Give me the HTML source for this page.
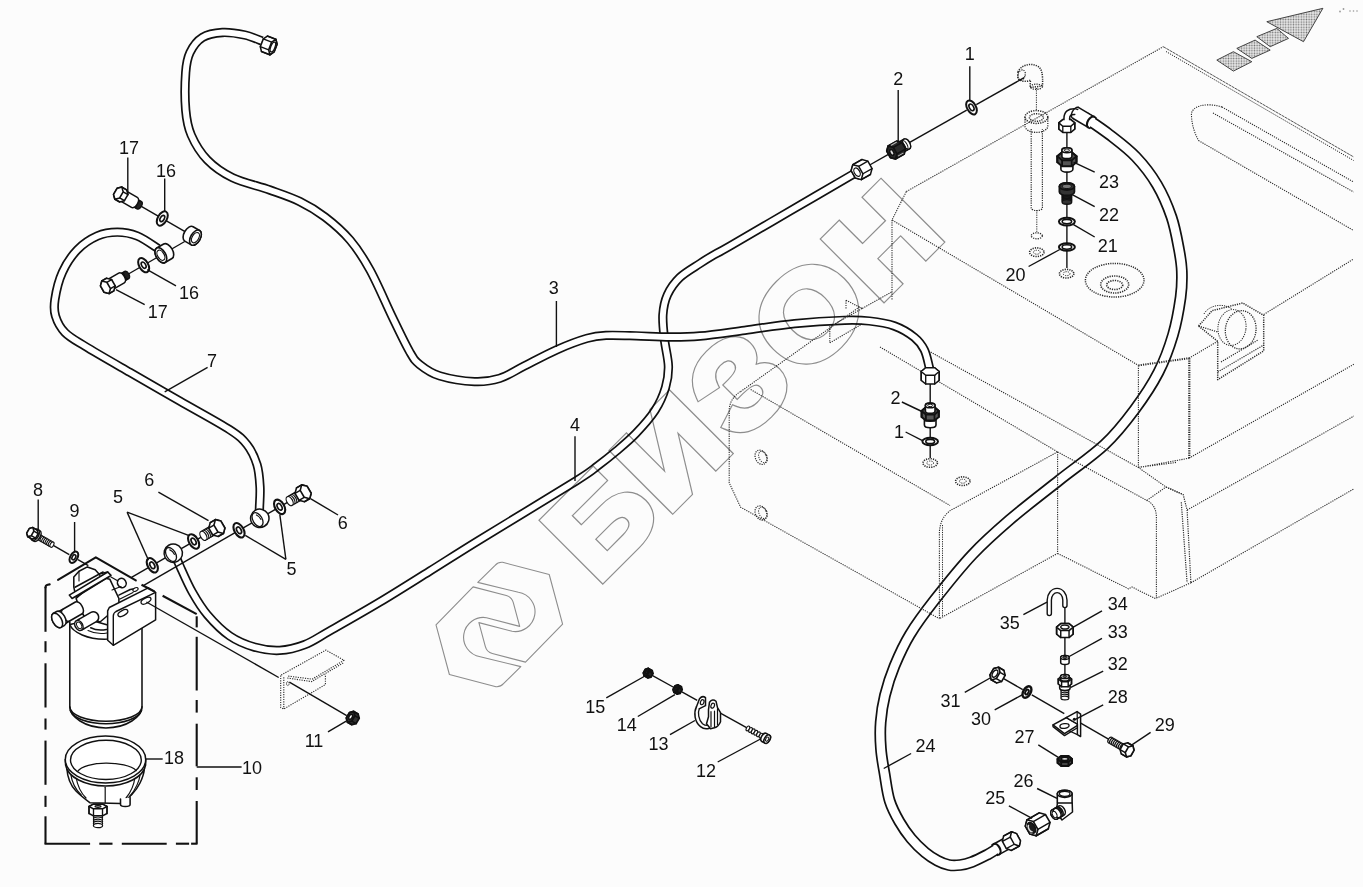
<!DOCTYPE html>
<html lang="ru"><head><meta charset="utf-8"><title>Схема</title>
<style>
html,body{margin:0;padding:0;background:#fcfcfc;}
body{width:1363px;height:887px;overflow:hidden;font-family:"Liberation Sans",sans-serif;}
svg{display:block;font-family:"Liberation Sans",sans-serif;}
</style></head><body>
<svg width="1363" height="887" viewBox="0 0 1363 887">
<defs>
<pattern id="ht" width="2.6" height="2.6" patternUnits="userSpaceOnUse"><rect width="2.6" height="2.6" fill="#e9e9e9"/><circle cx="1.3" cy="1.3" r="0.8" fill="#777"/></pattern>
</defs>
<path d="M854.5,173.4 C843.8,179.7 810.8,198.9 790.0,211.0 C769.2,223.1 743.0,238.5 730.0,246.0 C717.0,253.5 717.0,253.1 712.0,256.0 C707.0,258.9 705.4,259.9 700.0,263.5 C694.6,267.1 685.3,272.2 679.9,277.4 C674.5,282.6 670.2,288.7 667.4,294.9 C664.6,301.1 663.4,307.3 662.9,314.8 C662.4,322.3 663.6,331.3 664.5,339.8 C665.4,348.3 668.2,358.1 668.4,366.0 C668.6,373.9 667.7,380.1 665.5,387.5 C663.3,394.9 660.0,402.8 655.0,410.5 C650.0,418.2 642.2,426.8 635.8,433.5 C629.4,440.2 623.1,445.3 616.7,450.7 C610.3,456.1 604.3,460.9 597.5,466.0 C590.7,471.1 595.6,468.7 576.0,481.0 C556.4,493.3 504.2,524.7 479.8,539.7 C455.4,554.7 446.6,560.6 429.9,571.0 C413.2,581.4 396.1,592.3 379.4,602.3 C362.7,612.3 342.1,623.9 329.6,631.0 C317.1,638.1 312.9,641.5 304.6,644.7 C296.3,647.9 288.0,650.0 279.7,650.4 C271.4,650.8 263.0,649.6 254.7,647.2 C246.4,644.8 237.7,641.4 229.8,636.0 C221.9,630.6 213.5,622.0 207.3,614.7 C201.1,607.4 197.0,600.4 192.4,592.3 C187.8,584.2 182.6,572.0 179.9,566.1 C177.2,560.2 176.7,558.5 176.0,557.0" fill="none" stroke="#111" stroke-width="9.3" stroke-linecap="butt" stroke-linejoin="round"/>
<path d="M854.5,173.4 C843.8,179.7 810.8,198.9 790.0,211.0 C769.2,223.1 743.0,238.5 730.0,246.0 C717.0,253.5 717.0,253.1 712.0,256.0 C707.0,258.9 705.4,259.9 700.0,263.5 C694.6,267.1 685.3,272.2 679.9,277.4 C674.5,282.6 670.2,288.7 667.4,294.9 C664.6,301.1 663.4,307.3 662.9,314.8 C662.4,322.3 663.6,331.3 664.5,339.8 C665.4,348.3 668.2,358.1 668.4,366.0 C668.6,373.9 667.7,380.1 665.5,387.5 C663.3,394.9 660.0,402.8 655.0,410.5 C650.0,418.2 642.2,426.8 635.8,433.5 C629.4,440.2 623.1,445.3 616.7,450.7 C610.3,456.1 604.3,460.9 597.5,466.0 C590.7,471.1 595.6,468.7 576.0,481.0 C556.4,493.3 504.2,524.7 479.8,539.7 C455.4,554.7 446.6,560.6 429.9,571.0 C413.2,581.4 396.1,592.3 379.4,602.3 C362.7,612.3 342.1,623.9 329.6,631.0 C317.1,638.1 312.9,641.5 304.6,644.7 C296.3,647.9 288.0,650.0 279.7,650.4 C271.4,650.8 263.0,649.6 254.7,647.2 C246.4,644.8 237.7,641.4 229.8,636.0 C221.9,630.6 213.5,622.0 207.3,614.7 C201.1,607.4 197.0,600.4 192.4,592.3 C187.8,584.2 182.6,572.0 179.9,566.1 C177.2,560.2 176.7,558.5 176.0,557.0" fill="none" stroke="#fff" stroke-width="5.9" stroke-linecap="butt" stroke-linejoin="round"/>
<path d="M262.0,41.0 C259.1,40.0 251.4,36.4 244.8,35.0 C238.2,33.6 229.5,32.1 222.4,32.5 C215.3,32.9 207.8,34.2 202.4,37.5 C197.0,40.8 192.8,46.7 190.0,52.5 C187.2,58.3 186.4,62.9 185.7,72.5 C185.0,82.1 184.8,99.6 185.7,110.0 C186.6,120.4 187.6,126.7 191.2,135.0 C194.8,143.3 200.5,152.9 207.4,160.0 C214.3,167.1 222.0,172.6 232.4,177.6 C242.8,182.6 258.6,186.0 269.8,190.0 C281.0,194.0 290.5,197.0 299.7,201.5 C308.9,206.0 316.6,210.6 325.0,217.0 C333.4,223.4 342.5,231.2 350.0,240.0 C357.5,248.8 362.9,257.2 370.0,270.0 C377.1,282.8 385.7,303.3 392.3,317.0 C398.9,330.7 405.2,344.1 409.8,352.0 C414.4,359.9 414.7,360.6 419.7,364.6 C424.7,368.6 430.5,373.1 439.7,375.9 C448.9,378.7 464.6,381.2 474.6,381.6 C484.6,382.0 491.3,381.0 499.6,378.4 C507.9,375.8 515.0,370.7 524.5,365.9 C534.0,361.1 546.5,354.3 556.9,349.7 C567.3,345.1 578.7,340.8 586.9,338.4 C595.1,336.0 597.8,335.8 606.0,335.4 C614.2,335.0 625.3,335.5 636.0,335.8 C646.7,336.1 659.3,337.0 670.0,337.0 C680.7,337.0 687.5,337.1 700.0,336.0 C712.5,334.9 728.9,332.4 744.7,330.3 C760.5,328.2 778.0,325.3 794.6,323.6 C811.2,321.9 832.0,320.7 844.5,320.3 C857.0,319.9 861.1,320.1 869.4,321.0 C877.7,321.9 886.9,323.3 894.4,326.0 C901.9,328.7 909.3,333.3 914.3,337.3 C919.3,341.3 921.8,344.8 924.3,349.8 C926.8,354.8 928.3,363.5 929.3,367.2 C930.2,370.9 929.9,371.2 930.0,372.0" fill="none" stroke="#111" stroke-width="9.3" stroke-linecap="butt" stroke-linejoin="round"/>
<path d="M262.0,41.0 C259.1,40.0 251.4,36.4 244.8,35.0 C238.2,33.6 229.5,32.1 222.4,32.5 C215.3,32.9 207.8,34.2 202.4,37.5 C197.0,40.8 192.8,46.7 190.0,52.5 C187.2,58.3 186.4,62.9 185.7,72.5 C185.0,82.1 184.8,99.6 185.7,110.0 C186.6,120.4 187.6,126.7 191.2,135.0 C194.8,143.3 200.5,152.9 207.4,160.0 C214.3,167.1 222.0,172.6 232.4,177.6 C242.8,182.6 258.6,186.0 269.8,190.0 C281.0,194.0 290.5,197.0 299.7,201.5 C308.9,206.0 316.6,210.6 325.0,217.0 C333.4,223.4 342.5,231.2 350.0,240.0 C357.5,248.8 362.9,257.2 370.0,270.0 C377.1,282.8 385.7,303.3 392.3,317.0 C398.9,330.7 405.2,344.1 409.8,352.0 C414.4,359.9 414.7,360.6 419.7,364.6 C424.7,368.6 430.5,373.1 439.7,375.9 C448.9,378.7 464.6,381.2 474.6,381.6 C484.6,382.0 491.3,381.0 499.6,378.4 C507.9,375.8 515.0,370.7 524.5,365.9 C534.0,361.1 546.5,354.3 556.9,349.7 C567.3,345.1 578.7,340.8 586.9,338.4 C595.1,336.0 597.8,335.8 606.0,335.4 C614.2,335.0 625.3,335.5 636.0,335.8 C646.7,336.1 659.3,337.0 670.0,337.0 C680.7,337.0 687.5,337.1 700.0,336.0 C712.5,334.9 728.9,332.4 744.7,330.3 C760.5,328.2 778.0,325.3 794.6,323.6 C811.2,321.9 832.0,320.7 844.5,320.3 C857.0,319.9 861.1,320.1 869.4,321.0 C877.7,321.9 886.9,323.3 894.4,326.0 C901.9,328.7 909.3,333.3 914.3,337.3 C919.3,341.3 921.8,344.8 924.3,349.8 C926.8,354.8 928.3,363.5 929.3,367.2 C930.2,370.9 929.9,371.2 930.0,372.0" fill="none" stroke="#fff" stroke-width="5.9" stroke-linecap="butt" stroke-linejoin="round"/>
<path d="M158.0,248.5 C154.6,246.4 144.1,238.7 137.3,236.0 C130.5,233.3 124.0,232.2 117.3,232.2 C110.6,232.2 103.9,233.1 97.3,236.0 C90.7,238.9 83.2,243.7 77.4,249.7 C71.6,255.7 66.2,263.9 62.4,272.2 C58.6,280.5 56.0,292.3 54.9,299.6 C53.8,306.9 53.8,310.5 55.5,316.0 C57.2,321.5 60.0,327.4 64.9,332.4 C69.8,337.4 74.1,339.5 84.9,346.1 C95.7,352.8 114.0,363.2 129.8,372.3 C145.6,381.4 163.1,391.4 179.7,401.0 C196.3,410.6 218.4,422.4 229.6,429.7 C240.8,437.0 242.4,438.9 247.0,444.7 C251.6,450.5 254.8,457.6 257.0,464.6 C259.2,471.7 259.6,479.9 260.0,487.0 C260.4,494.1 259.6,502.7 259.5,507.0 C259.4,511.3 259.2,512.0 259.2,513.0" fill="none" stroke="#111" stroke-width="9.3" stroke-linecap="butt" stroke-linejoin="round"/>
<path d="M158.0,248.5 C154.6,246.4 144.1,238.7 137.3,236.0 C130.5,233.3 124.0,232.2 117.3,232.2 C110.6,232.2 103.9,233.1 97.3,236.0 C90.7,238.9 83.2,243.7 77.4,249.7 C71.6,255.7 66.2,263.9 62.4,272.2 C58.6,280.5 56.0,292.3 54.9,299.6 C53.8,306.9 53.8,310.5 55.5,316.0 C57.2,321.5 60.0,327.4 64.9,332.4 C69.8,337.4 74.1,339.5 84.9,346.1 C95.7,352.8 114.0,363.2 129.8,372.3 C145.6,381.4 163.1,391.4 179.7,401.0 C196.3,410.6 218.4,422.4 229.6,429.7 C240.8,437.0 242.4,438.9 247.0,444.7 C251.6,450.5 254.8,457.6 257.0,464.6 C259.2,471.7 259.6,479.9 260.0,487.0 C260.4,494.1 259.6,502.7 259.5,507.0 C259.4,511.3 259.2,512.0 259.2,513.0" fill="none" stroke="#fff" stroke-width="5.9" stroke-linecap="butt" stroke-linejoin="round"/>
<path d="M1084.7,117.3 C1088.9,120.2 1101.2,128.2 1109.7,134.8 C1118.2,141.4 1128.1,148.7 1136.0,157.0 C1143.9,165.3 1151.1,174.7 1157.0,184.7 C1162.9,194.7 1167.8,206.2 1171.5,217.0 C1175.2,227.8 1177.3,240.5 1179.0,249.5 C1180.7,258.5 1181.5,263.0 1181.8,271.0 C1182.1,279.0 1182.1,286.8 1180.6,297.4 C1179.1,308.0 1176.7,322.3 1173.0,334.8 C1169.3,347.3 1164.9,359.7 1158.5,372.2 C1152.1,384.7 1143.5,397.6 1134.5,409.7 C1125.5,421.8 1117.0,432.9 1104.5,444.6 C1092.0,456.3 1075.3,467.5 1059.5,480.0 C1043.7,492.5 1024.2,507.3 1009.7,519.8 C995.2,532.3 984.7,541.5 972.2,554.8 C959.7,568.1 945.2,586.4 934.8,599.7 C924.4,613.0 916.6,623.6 909.9,634.6 C903.2,645.6 898.7,655.9 894.5,666.0 C890.3,676.1 887.2,686.2 884.9,695.5 C882.6,704.8 881.4,713.2 880.7,722.0 C880.0,730.8 880.2,739.6 880.9,748.3 C881.5,757.0 883.1,765.2 884.6,774.0 C886.1,782.8 887.2,793.0 889.7,800.9 C892.2,808.8 895.7,815.2 899.3,821.5 C902.9,827.8 906.8,833.3 911.1,838.5 C915.4,843.7 920.8,848.8 925.2,852.5 C929.6,856.2 933.7,858.7 937.6,860.8 C941.5,862.9 945.1,864.3 948.9,865.0 C952.7,865.7 956.4,865.5 960.2,865.0 C964.0,864.5 967.4,863.7 971.9,862.0 C976.4,860.3 983.2,856.8 987.3,854.7 C991.4,852.6 994.2,850.5 996.5,849.2 C998.8,847.9 1000.2,847.2 1001.0,846.8" fill="none" stroke="#111" stroke-width="11.8" stroke-linecap="butt" stroke-linejoin="round"/>
<path d="M1084.7,117.3 C1088.9,120.2 1101.2,128.2 1109.7,134.8 C1118.2,141.4 1128.1,148.7 1136.0,157.0 C1143.9,165.3 1151.1,174.7 1157.0,184.7 C1162.9,194.7 1167.8,206.2 1171.5,217.0 C1175.2,227.8 1177.3,240.5 1179.0,249.5 C1180.7,258.5 1181.5,263.0 1181.8,271.0 C1182.1,279.0 1182.1,286.8 1180.6,297.4 C1179.1,308.0 1176.7,322.3 1173.0,334.8 C1169.3,347.3 1164.9,359.7 1158.5,372.2 C1152.1,384.7 1143.5,397.6 1134.5,409.7 C1125.5,421.8 1117.0,432.9 1104.5,444.6 C1092.0,456.3 1075.3,467.5 1059.5,480.0 C1043.7,492.5 1024.2,507.3 1009.7,519.8 C995.2,532.3 984.7,541.5 972.2,554.8 C959.7,568.1 945.2,586.4 934.8,599.7 C924.4,613.0 916.6,623.6 909.9,634.6 C903.2,645.6 898.7,655.9 894.5,666.0 C890.3,676.1 887.2,686.2 884.9,695.5 C882.6,704.8 881.4,713.2 880.7,722.0 C880.0,730.8 880.2,739.6 880.9,748.3 C881.5,757.0 883.1,765.2 884.6,774.0 C886.1,782.8 887.2,793.0 889.7,800.9 C892.2,808.8 895.7,815.2 899.3,821.5 C902.9,827.8 906.8,833.3 911.1,838.5 C915.4,843.7 920.8,848.8 925.2,852.5 C929.6,856.2 933.7,858.7 937.6,860.8 C941.5,862.9 945.1,864.3 948.9,865.0 C952.7,865.7 956.4,865.5 960.2,865.0 C964.0,864.5 967.4,863.7 971.9,862.0 C976.4,860.3 983.2,856.8 987.3,854.7 C991.4,852.6 994.2,850.5 996.5,849.2 C998.8,847.9 1000.2,847.2 1001.0,846.8" fill="none" stroke="#fff" stroke-width="8.4" stroke-linecap="butt" stroke-linejoin="round"/>
<path d="M906.3,191.6 L1163.3,46.7" fill="none" stroke="#2a2a2a" stroke-width="1.1" stroke-dasharray="1.2 1.1" stroke-linejoin="round"/>
<path d="M1163.3,46.7 L1353.6,156.9" fill="none" stroke="#555" stroke-width="1.0" stroke-dasharray="3 0.6" stroke-linejoin="round"/>
<path d="M1166,51.5 L1353.6,160.5" fill="none" stroke="#2a2a2a" stroke-width="1.0" stroke-dasharray="1.2 1.1" stroke-linejoin="round"/>
<path d="M906.3,191.6 L892,220 L1138.4,365.4" fill="none" stroke="#2a2a2a" stroke-width="1.1" stroke-dasharray="1.2 1.1" stroke-linejoin="round"/>
<path d="M892,220 L892,300" fill="none" stroke="#2a2a2a" stroke-width="1.1" stroke-dasharray="1.2 1.1" stroke-linejoin="round"/>
<path d="M1138.4,365.4 L1189,358.2" fill="none" stroke="#2a2a2a" stroke-width="2.0" stroke-dasharray="1.2 1.1" stroke-linejoin="round"/>
<path d="M1189,358.2 L1217.7,341.3 M1263.7,314.5 L1353.6,259" fill="none" stroke="#2a2a2a" stroke-width="1.1" stroke-dasharray="1.2 1.1" stroke-linejoin="round"/>
<path d="M1138.4,365.4 L1138.4,467.5" fill="none" stroke="#2a2a2a" stroke-width="1.1" stroke-dasharray="1.2 1.1" stroke-linejoin="round"/>
<path d="M1189.3,358.2 L1189.3,458" fill="none" stroke="#2a2a2a" stroke-width="2.2" stroke-dasharray="1.2 1.1" stroke-linejoin="round"/>
<path d="M1138.4,467.5 L1189,458.2 M1138.4,467.5 L1176,462.5" fill="none" stroke="#2a2a2a" stroke-width="1.1" stroke-dasharray="1.2 1.1" stroke-linejoin="round"/>
<path d="M930.7,352.1 L1138.4,467.5 L1166,487 L1183.2,494.6" fill="none" stroke="#2a2a2a" stroke-width="1.1" stroke-dasharray="1.2 1.1" stroke-linejoin="round"/>
<path d="M1222,107 L1353.6,182 M1198.5,140.5 L1353.6,230.5 M1222,107 C1206,102 1190,106 1191.5,116 C1192,126 1195,134 1198.5,140.5" fill="none" stroke="#2a2a2a" stroke-width="1.1" stroke-dasharray="1.2 1.1" stroke-linejoin="round"/>
<path d="M1213,113 L1353.6,192" fill="none" stroke="#2a2a2a" stroke-width="1.1" stroke-dasharray="1.2 1.1" stroke-linejoin="round"/>
<ellipse cx="1114.7" cy="280.2" rx="29.3" ry="16.8" transform="rotate(0 1114.7 280.2)" fill="none" stroke="#2a2a2a" stroke-width="1.5" stroke-dasharray="1.2 1.1"/>
<ellipse cx="1114.7" cy="284.5" rx="14" ry="8.5" transform="rotate(0 1114.7 284.5)" fill="none" stroke="#2a2a2a" stroke-width="1.6" stroke-dasharray="1.2 1.1"/>
<ellipse cx="1114.7" cy="285" rx="8" ry="4.5" transform="rotate(0 1114.7 285)" fill="none" stroke="#2a2a2a" stroke-width="1.6" stroke-dasharray="1.2 1.1"/>
<path d="M1198.6,326 L1212,310.7 L1242.7,303 L1263.7,315.3 L1263.7,350.9 L1217.7,379.7 L1217.7,341.3 Z" fill="none" stroke="#2a2a2a" stroke-width="1.5" stroke-dasharray="1.2 1.1" stroke-linejoin="round"/>
<path d="M1198.6,326 L1217.7,332 M1217.7,372 L1263.7,345 M1221,362 L1258,340" fill="none" stroke="#2a2a2a" stroke-width="1.2" stroke-dasharray="1.2 1.1" stroke-linejoin="round"/>
<ellipse cx="1240.7" cy="329.8" rx="15.3" ry="19.2" transform="rotate(8 1240.7 329.8)" fill="none" stroke="#2a2a2a" stroke-width="1.3" stroke-dasharray="1.2 1.1"/>
<ellipse cx="1232" cy="327.5" rx="14" ry="18" transform="rotate(8 1232 327.5)" fill="none" stroke="#2a2a2a" stroke-width="1.0" stroke-dasharray="1.2 1.1"/>
<path d="M1204,314 C1208,306 1222,302 1232,309" fill="none" stroke="#2a2a2a" stroke-width="1.0" stroke-dasharray="1.2 1.1" stroke-linejoin="round"/>
<path d="M1189,458.2 L1353.8,364.3" fill="none" stroke="#2a2a2a" stroke-width="1.1" stroke-dasharray="1.2 1.1" stroke-linejoin="round"/>
<path d="M1187.1,510 L1353.8,416.1" fill="none" stroke="#2a2a2a" stroke-width="1.1" stroke-dasharray="1.2 1.1" stroke-linejoin="round"/>
<path d="M1190.9,582.8 L1353.8,488.9" fill="none" stroke="#2a2a2a" stroke-width="1.1" stroke-dasharray="1.2 1.1" stroke-linejoin="round"/>
<path d="M1156.4,598.1 L1190.9,582.8" fill="none" stroke="#2a2a2a" stroke-width="1.1" stroke-dasharray="1.2 1.1" stroke-linejoin="round"/>
<path d="M1166,487 L1183.2,494.6 L1187.1,510 L1190.9,582.8 M1181.3,502.3 L1187.1,582.8" fill="none" stroke="#2a2a2a" stroke-width="1.2" stroke-dasharray="1.2 1.1" stroke-linejoin="round"/>
<path d="M1057.6,451.9 L1146.8,500.4 Q1156.4,505 1156.4,517.6 L1156.4,598.1" fill="none" stroke="#2a2a2a" stroke-width="1.1" stroke-dasharray="1.2 1.1" stroke-linejoin="round"/>
<path d="M1146.8,500.4 L1166,487" fill="none" stroke="#2a2a2a" stroke-width="1.1" stroke-dasharray="1.2 1.1" stroke-linejoin="round"/>
<path d="M1057.6,553.4 L1128.6,588.9 L1132,587 L1137,589.5 L1156.4,599.1" fill="none" stroke="#2a2a2a" stroke-width="1.1" stroke-dasharray="1.2 1.1" stroke-linejoin="round"/>
<path d="M1057.6,451.9 L1057.6,553.4" fill="none" stroke="#2a2a2a" stroke-width="1.1" stroke-dasharray="1.2 1.1" stroke-linejoin="round"/>
<path d="M880,347 L1057.6,451.9" fill="none" stroke="#2a2a2a" stroke-width="1.1" stroke-dasharray="1.2 1.1" stroke-linejoin="round"/>
<path d="M1057.6,451.9 L955,508 Q941,514 939.4,531.5 L939.4,618.7 L1057.6,553.4" fill="none" stroke="#2a2a2a" stroke-width="1.1" stroke-dasharray="1.2 1.1" stroke-linejoin="round"/>
<path d="M942.5,525 L942.5,616" fill="none" stroke="#2a2a2a" stroke-width="1.0" stroke-dasharray="1.2 1.1" stroke-linejoin="round"/>
<path d="M750.7,389.5 L950,505.5" fill="none" stroke="#2a2a2a" stroke-width="1.1" stroke-dasharray="1.2 1.1" stroke-linejoin="round"/>
<path d="M740.6,391.6 L860.2,306.4" fill="none" stroke="#2a2a2a" stroke-width="1.1" stroke-dasharray="1.2 1.1" stroke-linejoin="round"/>
<path d="M740.6,391.6 Q730,398 729.2,409.8 L729.2,482.8 L740.6,507.2 L939.4,618.7" fill="none" stroke="#2a2a2a" stroke-width="1.1" stroke-dasharray="1.2 1.1" stroke-linejoin="round"/>
<ellipse cx="760.9" cy="457.3" rx="5.5" ry="7.5" transform="rotate(-25 760.9 457.3)" fill="none" stroke="#2a2a2a" stroke-width="1.2" stroke-dasharray="1.2 1.1"/>
<ellipse cx="763.0" cy="457.0" rx="4.0" ry="6.0" transform="rotate(-25 763.0 457.0)" fill="none" stroke="#2a2a2a" stroke-width="1.0" stroke-dasharray="1.2 1.1"/>
<ellipse cx="760.9" cy="513.0" rx="5.5" ry="7.5" transform="rotate(-25 760.9 513.0)" fill="none" stroke="#2a2a2a" stroke-width="1.2" stroke-dasharray="1.2 1.1"/>
<ellipse cx="763.0" cy="512.8" rx="4.0" ry="6.0" transform="rotate(-25 763.0 512.8)" fill="none" stroke="#2a2a2a" stroke-width="1.0" stroke-dasharray="1.2 1.1"/>
<path d="M846,300.3 L862.3,308.4 L829.8,326.7 L829.8,342.9 M846,300.3 L846,308.5 M829.8,342.9 L862,324 M862.3,308.4 L891.6,292" fill="none" stroke="#2a2a2a" stroke-width="1.1" stroke-dasharray="1.2 1.1" stroke-linejoin="round"/>
<ellipse cx="1066.6" cy="273.7" rx="7.2" ry="4.3" transform="rotate(0 1066.6 273.7)" fill="none" stroke="#2a2a2a" stroke-width="1.6" stroke-dasharray="1.2 1.1"/>
<ellipse cx="1066.6" cy="273.7" rx="3.4" ry="2.0" transform="rotate(0 1066.6 273.7)" fill="none" stroke="#2a2a2a" stroke-width="1.0" stroke-dasharray="1.2 1.1"/>
<ellipse cx="930.2" cy="463" rx="7.2" ry="4.3" transform="rotate(0 930.2 463)" fill="none" stroke="#2a2a2a" stroke-width="1.6" stroke-dasharray="1.2 1.1"/>
<ellipse cx="930.2" cy="463" rx="3.4" ry="2.0" transform="rotate(0 930.2 463)" fill="none" stroke="#2a2a2a" stroke-width="1.0" stroke-dasharray="1.2 1.1"/>
<ellipse cx="962.8" cy="481.2" rx="7.2" ry="4.3" transform="rotate(0 962.8 481.2)" fill="none" stroke="#2a2a2a" stroke-width="1.6" stroke-dasharray="1.2 1.1"/>
<ellipse cx="962.8" cy="481.2" rx="3.4" ry="2.0" transform="rotate(0 962.8 481.2)" fill="none" stroke="#2a2a2a" stroke-width="1.0" stroke-dasharray="1.2 1.1"/>
<ellipse cx="1036.8" cy="252.2" rx="7.2" ry="4.3" transform="rotate(0 1036.8 252.2)" fill="none" stroke="#2a2a2a" stroke-width="1.6" stroke-dasharray="1.2 1.1"/>
<ellipse cx="1036.8" cy="252.2" rx="3.4" ry="2.0" transform="rotate(0 1036.8 252.2)" fill="none" stroke="#2a2a2a" stroke-width="1.0" stroke-dasharray="1.2 1.1"/>
<ellipse cx="1036.8" cy="235.8" rx="5.5" ry="3.0" transform="rotate(0 1036.8 235.8)" fill="none" stroke="#2a2a2a" stroke-width="1.3" stroke-dasharray="1.2 1.1"/>
<path d="M1036.4,88 L1036.4,110 M1036.8,210 L1036.8,232" fill="none" stroke="#2a2a2a" stroke-width="1.0" stroke-dasharray="1.2 1.1" stroke-linejoin="round"/>
<path d="M1031.2,129 L1031.2,208 A5.6,2.6 0 0 0 1042.4,208 L1042.4,129" fill="none" stroke="#2a2a2a" stroke-width="1.2" stroke-dasharray="1.2 1.1" stroke-linejoin="round"/>
<path d="M1025,117 L1025,126 A11.4,6.4 0 0 0 1047.8,126 L1047.8,117" fill="none" stroke="#2a2a2a" stroke-width="1.3" stroke-dasharray="1.2 1.1" stroke-linejoin="round"/>
<ellipse cx="1036.4" cy="117" rx="11.4" ry="6.4" transform="rotate(0 1036.4 117)" fill="none" stroke="#2a2a2a" stroke-width="1.5" stroke-dasharray="1.2 1.1"/>
<ellipse cx="1036.4" cy="117.5" rx="7.0" ry="3.8" transform="rotate(0 1036.4 117.5)" fill="none" stroke="#2a2a2a" stroke-width="1.4" stroke-dasharray="1.2 1.1"/>
<path d="M1018,72 C1020,66 1030,62 1037,66 C1042,68 1043,74 1042.5,86 L1030,87.5 L1030.5,80 C1027,82 1020,82 1018,78 Z" fill="none" stroke="#2a2a2a" stroke-width="1.5" stroke-dasharray="1.2 1.1" stroke-linejoin="round"/>
<ellipse cx="1021.5" cy="75" rx="3.6" ry="5.2" transform="rotate(20 1021.5 75)" fill="none" stroke="#2a2a2a" stroke-width="1.3" stroke-dasharray="1.2 1.1"/>
<ellipse cx="1036.3" cy="86.7" rx="6.0" ry="2.6" transform="rotate(0 1036.3 86.7)" fill="none" stroke="#2a2a2a" stroke-width="1.3" stroke-dasharray="1.2 1.1"/>
<path d="M281.2,675 L325.9,650.1 L344.1,660.3 L312.2,679.1 L287.3,676 M287.3,678 L311.6,681.6 L343.6,662.8 M280.7,675.5 L280.7,707.5 L283.8,709 L325.4,684.6 L325.4,674.5 M283.8,677.3 L283.8,709" fill="none" stroke="#2a2a2a" stroke-width="1.1" stroke-dasharray="1.2 1.2" stroke-linejoin="round"/>
<ellipse cx="287.8" cy="683.6" rx="1.3" ry="2.0" transform="rotate(0 287.8 683.6)" fill="none" stroke="#2a2a2a" stroke-width="1.0" stroke-dasharray="1 0.6"/>
<polygon points="1266.8,21.7 1322.9,8.3 1303.5,41.7" fill="url(#ht)" stroke="#333" stroke-width="0.9"/>
<polygon points="1256.8,36.7 1276.8,28.4 1288.5,38.4 1270.2,46.7" fill="url(#ht)" stroke="#333" stroke-width="0.9"/>
<polygon points="1236.8,48.4 1255.1,40.1 1270.2,50.1 1251.8,58.4" fill="url(#ht)" stroke="#333" stroke-width="0.9"/>
<polygon points="1216.8,60.1 1233.4,51.7 1251.8,61.7 1233.4,71.1" fill="url(#ht)" stroke="#333" stroke-width="0.9"/>
<g fill="#999"><circle cx="1340" cy="11.5" r="0.9"/><circle cx="1343.5" cy="9" r="0.9"/><circle cx="1350" cy="11" r="0.8"/><circle cx="1353.5" cy="11" r="0.8"/><circle cx="1357" cy="11" r="0.8"/></g>
<path d="M69.8,622 L69.8,706.8 C69.8,716.5 85,727.9 105.9,727.9 C127,727.9 142,716.5 142,706.8 L142,628" fill="#fff" stroke="#111" stroke-width="1.55" stroke-linejoin="round" stroke-linecap="round" />
<path d="M69.8,706.8 A36.1,14.4 0 0 0 142,706.8" fill="none" stroke="#111" stroke-width="1.55" stroke-linejoin="round" stroke-linecap="round" />
<path d="M70.3,710.5 A36,15.5 0 0 0 141.5,710.5" fill="none" stroke="#111" stroke-width="1.55" stroke-linejoin="round" stroke-linecap="round" />
<path d="M69.9,624.4 C72,632 88,640 107.7,639.1 L107.7,625 L90,620 Z" fill="#fff" stroke="#111" stroke-width="1.55" stroke-linejoin="round" stroke-linecap="round" />
<path d="M90.7,627.8 C96,630.5 101,630.5 106.5,629.5" fill="none" stroke="#111" stroke-width="1.55" stroke-linejoin="round" stroke-linecap="round" />
<path d="M88,630.5 C95,634 101,634 107,633" fill="none" stroke="#111" stroke-width="1.1" stroke-linejoin="round" stroke-linecap="round" />
<path d="M76.10,598.50 L77.80,603.00 L80.00,609.00 L84.00,616.00 L100.00,622.00 L118.90,606.00 L118.90,598.50 L109.90,579.30 L100.00,577.00 Z" fill="#fff" stroke="#111" stroke-width="1.55" stroke-linejoin="round" stroke-linecap="round" />
<path d="M73.80,587.20 L73.80,577.10 L79.00,571.20 L87.40,566.90 L95.20,569.70 L99.00,574.00 L107.70,572.00 L110.00,576.00 L76.00,597.00 Z" fill="#fff" stroke="#111" stroke-width="1.55" stroke-linejoin="round" stroke-linecap="round" />
<path d="M75,587.2 L103.1,572" fill="none" stroke="#111" stroke-width="1.55" stroke-linejoin="round" stroke-linecap="round" />
<path d="M79,571.2 L79,581 M99,574 L101,578" fill="none" stroke="#111" stroke-width="1.1" stroke-linejoin="round" stroke-linecap="round" />
<path d="M69.30,595.10 L107.70,572.00 L111.00,575.40 L72.10,598.50 Z" fill="#fff" stroke="#111" stroke-width="1.55" stroke-linejoin="round" stroke-linecap="round" />
<ellipse cx="121.8" cy="583" rx="4.2" ry="4.8" transform="rotate(-30 121.8 583)" fill="#fff" stroke="#111" stroke-width="1.55" />
<path d="M111,577 L118,581 M112,590 L121,586.5" fill="none" stroke="#111" stroke-width="1.2" stroke-linejoin="round" stroke-linecap="round" />
<path d="M118.9,595.1 L130.2,589.5 L137,588.3" fill="none" stroke="#111" stroke-width="1.55" stroke-linejoin="round" stroke-linecap="round" />
<path d="M120,599 L133,592.5" fill="none" stroke="#111" stroke-width="1.2" stroke-linejoin="round" stroke-linecap="round" />
<ellipse cx="135.5" cy="589.5" rx="2.8" ry="1.6" transform="rotate(-25 135.5 589.5)" fill="#fff" stroke="#111" stroke-width="1.1" />
<g transform="translate(58,619.9) rotate(-30)">
<path d="M3,-6.8 L24,-6.8 A3.74,6.8 0 0 1 24,6.8 L3,6.8 A3.74,6.8 0 0 1 3,-6.8 Z" fill="#fff" stroke="#111" stroke-width="1.55" stroke-linejoin="round" />
<path d="M7,-6.8 A3.7,6.8 0 0 0 7,6.8 M9.5,-6.8 A3.7,6.8 0 0 0 9.5,6.8" fill="none" stroke="#111" stroke-width="1.2" stroke-linejoin="round" stroke-linecap="round" />
<path d="M-1,-8.0 L3,-8.0 A4.4,8.0 0 0 1 3,8.0 L-1,8.0 A4.4,8.0 0 0 1 -1,-8.0 Z" fill="#fff" stroke="#111" stroke-width="1.55" stroke-linejoin="round" />
<ellipse cx="-1" cy="0" rx="4.4" ry="8.0" fill="#fff" stroke="#111" stroke-width="1.55" />
</g>
<g transform="translate(78.9,625.5) rotate(-30)">
<path d="M0,-5.4 L17,-5.4 A5,5.4 0 0 1 17,5.4 L0,5.4 Z" fill="#fff" stroke="#111" stroke-width="1.55" stroke-linejoin="round" stroke-linecap="round" />
<path d="M3.5,-5.4 A3.6,5.4 0 0 0 3.5,5.4" fill="none" stroke="#111" stroke-width="1.2" stroke-linejoin="round" stroke-linecap="round" />
<ellipse cx="0" cy="0" rx="3.7" ry="5.4" fill="#fff" stroke="#111" stroke-width="1.55"/>
<ellipse cx="0.3" cy="0" rx="2.2" ry="3.6" fill="none" stroke="#111" stroke-width="1.0"/>
</g>
<path d="M109.30,607.50 L148.20,587.80 L155.60,592.30 L155.60,619.90 L113.30,645.30 L107.65,640.20 L107.65,610.90 Z" fill="#fff" stroke="#111" stroke-width="1.5" stroke-linejoin="round" stroke-linecap="round" />
<path d="M155.6,592.3 L116,611.5 Q113.3,613 113.3,616 L113.3,645.3" fill="none" stroke="#111" stroke-width="1.4" stroke-linejoin="round" stroke-linecap="round" />
<ellipse cx="122.9" cy="613.1" rx="5.4" ry="2.6" transform="rotate(-28 122.9 613.1)" fill="#fff" stroke="#111" stroke-width="1.3" />
<ellipse cx="146.0" cy="600.7" rx="5.4" ry="2.6" transform="rotate(-28 146.0 600.7)" fill="#fff" stroke="#111" stroke-width="1.3" />
<path d="M66.8,768 C67.5,778 71,786 76,791 C80,795 85,799 89.8,802.7 L120.5,803.6 C128,799 136,791 140,783 C143,777 144.2,772 144.4,768 Z" fill="#fff" stroke="#111" stroke-width="1.55" stroke-linejoin="round" stroke-linecap="round" />
<path d="M70.7,773.9 C72,783 76,790 81.2,795 M76,777 C77.5,786 81,793 86,798 M140.3,774 C139,783 135,790 130,796 M135,777 C134,785 131,792 126,798" fill="none" stroke="#111" stroke-width="1.2" stroke-linejoin="round" stroke-linecap="round" />
<path d="M105.2,787.3 L105.2,802.7" fill="none" stroke="#111" stroke-width="1.2" stroke-linejoin="round" stroke-linecap="round" />
<path d="M65.3,759.5 L65.6,765 A40.2,23.4 0 0 0 145.6,765 L145.7,759.5" fill="#fff" stroke="#111" stroke-width="1.55" stroke-linejoin="round" stroke-linecap="round" />
<ellipse cx="105.5" cy="759.5" rx="40.2" ry="23.4" transform="rotate(0 105.5 759.5)" fill="#fff" stroke="#111" stroke-width="1.5" />
<ellipse cx="105.9" cy="759.9" rx="35.4" ry="19.6" transform="rotate(0 105.9 759.9)" fill="#fff" stroke="#111" stroke-width="1.4" />
<path d="M77.5,771.5 C85,760.5 126,760.5 136.3,770.6" fill="none" stroke="#111" stroke-width="1.3" stroke-linejoin="round" stroke-linecap="round" />
<g transform="translate(98,806) rotate(90)">
<ellipse cx="9.00" cy="0" rx="2.21" ry="4.6" fill="#fff" stroke="#111" stroke-width="1.2"/>
<ellipse cx="11.10" cy="0" rx="2.21" ry="4.6" fill="#fff" stroke="#111" stroke-width="1.2"/>
<ellipse cx="13.20" cy="0" rx="2.21" ry="4.6" fill="#fff" stroke="#111" stroke-width="1.2"/>
<ellipse cx="15.30" cy="0" rx="2.21" ry="4.6" fill="#fff" stroke="#111" stroke-width="1.2"/>
<ellipse cx="17.40" cy="0" rx="2.21" ry="4.6" fill="#fff" stroke="#111" stroke-width="1.2"/>
<ellipse cx="19.50" cy="0" rx="2.21" ry="4.6" fill="#fff" stroke="#111" stroke-width="1.2"/>
<path d="M-1.84,-4.50 L0.50,-9.00 L7.50,-9.00 L9.84,-4.50 L9.84,4.50 L7.50,9.00 L0.50,9.00 L-1.84,4.50 Z" fill="#fff" stroke="#111" stroke-width="1.5" stroke-linejoin="round" stroke-linecap="round" />
<path d="M2.84,4.50 L9.84,4.50" fill="none" stroke="#111" stroke-width="1.35" stroke-linejoin="round" stroke-linecap="round" />
<path d="M0.50,9.00 L7.50,9.00" fill="none" stroke="#111" stroke-width="1.35" stroke-linejoin="round" stroke-linecap="round" />
<path d="M0.50,-9.00 L7.50,-9.00" fill="none" stroke="#111" stroke-width="1.35" stroke-linejoin="round" stroke-linecap="round" />
<path d="M2.84,-4.50 L9.84,-4.50" fill="none" stroke="#111" stroke-width="1.35" stroke-linejoin="round" stroke-linecap="round" />
<path d="M2.84,4.50 L0.50,9.00 L-1.84,4.50 L-1.84,-4.50 L0.50,-9.00 L2.84,-4.50 Z" fill="#fff" stroke="#111" stroke-width="1.5" stroke-linejoin="round" stroke-linecap="round" />
<ellipse cx="0.5" cy="0" rx="0.90" ry="3.0" fill="#fff" stroke="#111" stroke-width="1.1"/>
</g>
<path d="M120.5,799 L120.5,804.5 A4.8,2 0 0 0 130.1,804.5 L130.1,797.5" fill="#fff" stroke="#111" stroke-width="1.55" stroke-linejoin="round" stroke-linecap="round" />
<line x1="45.5" y1="587" x2="45.5" y2="631.8" stroke="#111" stroke-width="2.1" />
<line x1="45.5" y1="641.2" x2="45.5" y2="652.3" stroke="#111" stroke-width="2.1" />
<line x1="45.5" y1="663.3" x2="45.5" y2="707.5" stroke="#111" stroke-width="2.1" />
<line x1="45.5" y1="718.5" x2="45.5" y2="729.6" stroke="#111" stroke-width="2.1" />
<line x1="45.5" y1="740.6" x2="45.5" y2="784.8" stroke="#111" stroke-width="2.1" />
<line x1="45.5" y1="795.8" x2="45.5" y2="806.9" stroke="#111" stroke-width="2.1" />
<line x1="45.5" y1="816.3" x2="45.5" y2="843.7" stroke="#111" stroke-width="2.1" />
<path d="M45.5,587.5 Q45.5,585.2 47.7,584.8 L49.7,584.4" fill="none" stroke="#111" stroke-width="2.1" stroke-linejoin="round" stroke-linecap="round" />
<line x1="44.5" y1="843.7" x2="90.1" y2="843.7" stroke="#111" stroke-width="2.1" />
<line x1="99.3" y1="843.7" x2="112.5" y2="843.7" stroke="#111" stroke-width="2.1" />
<line x1="121.8" y1="843.7" x2="166.7" y2="843.7" stroke="#111" stroke-width="2.1" />
<line x1="175.9" y1="843.7" x2="189.1" y2="843.7" stroke="#111" stroke-width="2.1" />
<line x1="191.1" y1="843.7" x2="197.5" y2="843.7" stroke="#111" stroke-width="2.1" />
<line x1="196.7" y1="616.3" x2="196.7" y2="627.4" stroke="#111" stroke-width="2.1" />
<line x1="196.7" y1="636.8" x2="196.7" y2="690.5" stroke="#111" stroke-width="2.1" />
<line x1="196.7" y1="700" x2="196.7" y2="712.6" stroke="#111" stroke-width="2.1" />
<line x1="196.7" y1="723.7" x2="196.7" y2="766.3" stroke="#111" stroke-width="2.1" />
<line x1="196.7" y1="777.3" x2="196.7" y2="790" stroke="#111" stroke-width="2.1" />
<line x1="196.7" y1="801" x2="196.7" y2="843.7" stroke="#111" stroke-width="2.1" />
<path d="M58,579.8 L95.8,557.4 L135.8,580.4" fill="none" stroke="#111" stroke-width="2.1" stroke-linejoin="round" stroke-linecap="round" />
<line x1="141.5" y1="584.8" x2="154.5" y2="591.5" stroke="#111" stroke-width="2.1" />
<line x1="162.6" y1="595.8" x2="196.7" y2="614.1" stroke="#111" stroke-width="2.1" />
<line x1="196.7" y1="766.9" x2="241.6" y2="766.9" stroke="#111" stroke-width="1.5" />
<g transform="translate(121.4,194.9) rotate(30)">
<line x1="21" y1="0" x2="43" y2="0" stroke="#111" stroke-width="1.4" />
<line x1="52" y1="0" x2="77" y2="0" stroke="#111" stroke-width="1.4" />
<ellipse cx="15.00" cy="0" rx="2.49" ry="4.3" fill="#222" stroke="#111" stroke-width="1.3"/>
<ellipse cx="16.38" cy="0" rx="2.49" ry="4.3" fill="#222" stroke="#111" stroke-width="1.3"/>
<ellipse cx="17.75" cy="0" rx="2.49" ry="4.3" fill="#222" stroke="#111" stroke-width="1.3"/>
<ellipse cx="19.12" cy="0" rx="2.49" ry="4.3" fill="#222" stroke="#111" stroke-width="1.3"/>
<ellipse cx="20.50" cy="0" rx="2.49" ry="4.3" fill="#222" stroke="#111" stroke-width="1.3"/>
<path d="M2,-5.8 L15,-5.8 A3.364,5.8 0 0 1 15,5.8 L2,5.8 A3.364,5.8 0 0 1 2,-5.8 Z" fill="#fff" stroke="#111" stroke-width="1.6" stroke-linejoin="round" />
<path d="M-7.02,-3.50 L-3.50,-7.00 L2.00,-7.00 L5.52,-3.50 L5.52,3.50 L2.00,7.00 L-3.50,7.00 L-7.02,3.50 Z" fill="#fff" stroke="#111" stroke-width="1.6" stroke-linejoin="round" stroke-linecap="round" />
<path d="M0.02,3.50 L5.52,3.50" fill="none" stroke="#111" stroke-width="1.4400000000000002" stroke-linejoin="round" stroke-linecap="round" />
<path d="M-3.50,7.00 L2.00,7.00" fill="none" stroke="#111" stroke-width="1.4400000000000002" stroke-linejoin="round" stroke-linecap="round" />
<path d="M-3.50,-7.00 L2.00,-7.00" fill="none" stroke="#111" stroke-width="1.4400000000000002" stroke-linejoin="round" stroke-linecap="round" />
<path d="M0.02,-3.50 L5.52,-3.50" fill="none" stroke="#111" stroke-width="1.4400000000000002" stroke-linejoin="round" stroke-linecap="round" />
<path d="M0.02,3.50 L-3.50,7.00 L-7.02,3.50 L-7.02,-3.50 L-3.50,-7.00 L0.02,-3.50 Z" fill="#fff" stroke="#111" stroke-width="1.6" stroke-linejoin="round" stroke-linecap="round" />
<ellipse cx="47.2" cy="0" rx="4.52" ry="7.8" fill="#fff" stroke="#111" stroke-width="2.0"/>
<ellipse cx="47.2" cy="0" rx="1.97" ry="3.4" fill="#fff" stroke="#111" stroke-width="1.6"/>
<path d="M78,-8.3 L85.5,-8.3 A4.814,8.3 0 0 1 85.5,8.3 L78,8.3 A4.814,8.3 0 0 1 78,-8.3 Z" fill="#fff" stroke="#111" stroke-width="1.6" stroke-linejoin="round" />
<ellipse cx="85.5" cy="0" rx="4.814" ry="8.3" fill="#fff" stroke="#111" stroke-width="1.6" />
<ellipse cx="85.5" cy="0" rx="3.25" ry="5.6" fill="#fff" stroke="#111" stroke-width="1.2"/>
</g>
<g transform="translate(108.5,285.5) rotate(-30)">
<line x1="22" y1="0" x2="36" y2="0" stroke="#111" stroke-width="1.4" />
<line x1="45" y1="0" x2="58" y2="0" stroke="#111" stroke-width="1.4" />
<line x1="73" y1="0" x2="88" y2="0" stroke="#111" stroke-width="1.4" />
<ellipse cx="15.00" cy="0" rx="2.44" ry="4.2" fill="#222" stroke="#111" stroke-width="1.3"/>
<ellipse cx="16.50" cy="0" rx="2.44" ry="4.2" fill="#222" stroke="#111" stroke-width="1.3"/>
<ellipse cx="18.00" cy="0" rx="2.44" ry="4.2" fill="#222" stroke="#111" stroke-width="1.3"/>
<ellipse cx="19.50" cy="0" rx="2.44" ry="4.2" fill="#222" stroke="#111" stroke-width="1.3"/>
<ellipse cx="21.00" cy="0" rx="2.44" ry="4.2" fill="#222" stroke="#111" stroke-width="1.3"/>
<path d="M2,-5.6 L15,-5.6 A3.2479999999999998,5.6 0 0 1 15,5.6 L2,5.6 A3.2479999999999998,5.6 0 0 1 2,-5.6 Z" fill="#fff" stroke="#111" stroke-width="1.6" stroke-linejoin="round" />
<path d="M-7.17,-3.65 L-3.50,-7.30 L2.00,-7.30 L5.67,-3.65 L5.67,3.65 L2.00,7.30 L-3.50,7.30 L-7.17,3.65 Z" fill="#fff" stroke="#111" stroke-width="1.6" stroke-linejoin="round" stroke-linecap="round" />
<path d="M0.17,3.65 L5.67,3.65" fill="none" stroke="#111" stroke-width="1.4400000000000002" stroke-linejoin="round" stroke-linecap="round" />
<path d="M-3.50,7.30 L2.00,7.30" fill="none" stroke="#111" stroke-width="1.4400000000000002" stroke-linejoin="round" stroke-linecap="round" />
<path d="M-3.50,-7.30 L2.00,-7.30" fill="none" stroke="#111" stroke-width="1.4400000000000002" stroke-linejoin="round" stroke-linecap="round" />
<path d="M0.17,-3.65 L5.67,-3.65" fill="none" stroke="#111" stroke-width="1.4400000000000002" stroke-linejoin="round" stroke-linecap="round" />
<path d="M0.17,3.65 L-3.50,7.30 L-7.17,3.65 L-7.17,-3.65 L-3.50,-7.30 L0.17,-3.65 Z" fill="#fff" stroke="#111" stroke-width="1.6" stroke-linejoin="round" stroke-linecap="round" />
<ellipse cx="40.6" cy="0" rx="4.52" ry="7.8" fill="#fff" stroke="#111" stroke-width="2.0"/>
<ellipse cx="40.6" cy="0" rx="1.97" ry="3.4" fill="#fff" stroke="#111" stroke-width="1.6"/>
<path d="M60.5,-8.3 L68.5,-8.3 A4.814,8.3 0 0 1 68.5,8.3 L60.5,8.3 A4.814,8.3 0 0 1 60.5,-8.3 Z" fill="#fff" stroke="#111" stroke-width="1.6" stroke-linejoin="round" />
<ellipse cx="60.5" cy="0" rx="4.814" ry="8.3" fill="#fff" stroke="#111" stroke-width="1.6" />
<ellipse cx="60.5" cy="0" rx="3.25" ry="5.6" fill="#fff" stroke="#111" stroke-width="1.2"/>
</g>
<g transform="translate(152.3,565.3) rotate(-30)">
<line x1="-24" y1="0" x2="-5" y2="0" stroke="#111" stroke-width="1.4" />
<line x1="5" y1="0" x2="15" y2="0" stroke="#111" stroke-width="1.4" />
<line x1="33.5" y1="0" x2="43" y2="0" stroke="#111" stroke-width="1.4" />
<line x1="52" y1="0" x2="58" y2="0" stroke="#111" stroke-width="1.4" />
<ellipse cx="0" cy="0" rx="4.58" ry="7.9" fill="#fff" stroke="#111" stroke-width="2.1"/>
<ellipse cx="0" cy="0" rx="2.09" ry="3.6" fill="#fff" stroke="#111" stroke-width="1.6800000000000002"/>
<circle cx="24.2" cy="0" r="9.2" fill="#fff" stroke="#111" stroke-width="1.5"/>
<ellipse cx="21.599999999999998" cy="0" rx="4.6" ry="7.6" fill="#fff" stroke="#111" stroke-width="1.3"/>
<path d="M22.7,-5 Q25.0,-2 24.7,2" fill="none" stroke="#111" stroke-width="1.2"/>
<ellipse cx="47.7" cy="0" rx="4.58" ry="7.9" fill="#fff" stroke="#111" stroke-width="2.1"/>
<ellipse cx="47.7" cy="0" rx="2.09" ry="3.6" fill="#fff" stroke="#111" stroke-width="1.6800000000000002"/>
<ellipse cx="71.00" cy="0" rx="2.90" ry="5.0" fill="#fff" stroke="#111" stroke-width="1.2"/>
<ellipse cx="69.00" cy="0" rx="2.90" ry="5.0" fill="#fff" stroke="#111" stroke-width="1.2"/>
<ellipse cx="67.00" cy="0" rx="2.90" ry="5.0" fill="#fff" stroke="#111" stroke-width="1.2"/>
<ellipse cx="65.00" cy="0" rx="2.90" ry="5.0" fill="#fff" stroke="#111" stroke-width="1.2"/>
<ellipse cx="63.00" cy="0" rx="2.90" ry="5.0" fill="#fff" stroke="#111" stroke-width="1.2"/>
<ellipse cx="61.00" cy="0" rx="2.90" ry="5.0" fill="#fff" stroke="#111" stroke-width="1.2"/>
<ellipse cx="59.00" cy="0" rx="2.90" ry="5.0" fill="#fff" stroke="#111" stroke-width="1.2"/>
<path d="M67.48,-4.00 L71.50,-8.00 L77.50,-8.00 L81.52,-4.00 L81.52,4.00 L77.50,8.00 L71.50,8.00 L67.48,4.00 Z" fill="#fff" stroke="#111" stroke-width="1.6" stroke-linejoin="round" stroke-linecap="round" />
<path d="M77.50,8.00 L71.50,8.00" fill="none" stroke="#111" stroke-width="1.4400000000000002" stroke-linejoin="round" stroke-linecap="round" />
<path d="M73.48,4.00 L67.48,4.00" fill="none" stroke="#111" stroke-width="1.4400000000000002" stroke-linejoin="round" stroke-linecap="round" />
<path d="M73.48,-4.00 L67.48,-4.00" fill="none" stroke="#111" stroke-width="1.4400000000000002" stroke-linejoin="round" stroke-linecap="round" />
<path d="M77.50,-8.00 L71.50,-8.00" fill="none" stroke="#111" stroke-width="1.4400000000000002" stroke-linejoin="round" stroke-linecap="round" />
<path d="M81.52,4.00 L77.50,8.00 L73.48,4.00 L73.48,-4.00 L77.50,-8.00 L81.52,-4.00 Z" fill="#fff" stroke="#111" stroke-width="1.6" stroke-linejoin="round" stroke-linecap="round" />
</g>
<g transform="translate(239.0,530.3) rotate(-30)">
<line x1="-110" y1="0" x2="-5" y2="0" stroke="#111" stroke-width="1.4" />
<line x1="5" y1="0" x2="15" y2="0" stroke="#111" stroke-width="1.4" />
<line x1="33.5" y1="0" x2="42" y2="0" stroke="#111" stroke-width="1.4" />
<line x1="51.5" y1="0" x2="58" y2="0" stroke="#111" stroke-width="1.4" />
<ellipse cx="0" cy="0" rx="4.58" ry="7.9" fill="#fff" stroke="#111" stroke-width="2.1"/>
<ellipse cx="0" cy="0" rx="2.09" ry="3.6" fill="#fff" stroke="#111" stroke-width="1.6800000000000002"/>
<circle cx="24.0" cy="0" r="9.2" fill="#fff" stroke="#111" stroke-width="1.5"/>
<ellipse cx="21.4" cy="0" rx="4.6" ry="7.6" fill="#fff" stroke="#111" stroke-width="1.3"/>
<path d="M22.5,-5 Q24.8,-2 24.5,2" fill="none" stroke="#111" stroke-width="1.2"/>
<ellipse cx="46.9" cy="0" rx="4.58" ry="7.9" fill="#fff" stroke="#111" stroke-width="2.1"/>
<ellipse cx="46.9" cy="0" rx="2.09" ry="3.6" fill="#fff" stroke="#111" stroke-width="1.6800000000000002"/>
<ellipse cx="70.50" cy="0" rx="2.90" ry="5.0" fill="#fff" stroke="#111" stroke-width="1.2"/>
<ellipse cx="68.50" cy="0" rx="2.90" ry="5.0" fill="#fff" stroke="#111" stroke-width="1.2"/>
<ellipse cx="66.50" cy="0" rx="2.90" ry="5.0" fill="#fff" stroke="#111" stroke-width="1.2"/>
<ellipse cx="64.50" cy="0" rx="2.90" ry="5.0" fill="#fff" stroke="#111" stroke-width="1.2"/>
<ellipse cx="62.50" cy="0" rx="2.90" ry="5.0" fill="#fff" stroke="#111" stroke-width="1.2"/>
<ellipse cx="60.50" cy="0" rx="2.90" ry="5.0" fill="#fff" stroke="#111" stroke-width="1.2"/>
<ellipse cx="58.50" cy="0" rx="2.90" ry="5.0" fill="#fff" stroke="#111" stroke-width="1.2"/>
<path d="M66.98,-4.00 L71.00,-8.00 L77.00,-8.00 L81.02,-4.00 L81.02,4.00 L77.00,8.00 L71.00,8.00 L66.98,4.00 Z" fill="#fff" stroke="#111" stroke-width="1.6" stroke-linejoin="round" stroke-linecap="round" />
<path d="M77.00,8.00 L71.00,8.00" fill="none" stroke="#111" stroke-width="1.4400000000000002" stroke-linejoin="round" stroke-linecap="round" />
<path d="M72.98,4.00 L66.98,4.00" fill="none" stroke="#111" stroke-width="1.4400000000000002" stroke-linejoin="round" stroke-linecap="round" />
<path d="M72.98,-4.00 L66.98,-4.00" fill="none" stroke="#111" stroke-width="1.4400000000000002" stroke-linejoin="round" stroke-linecap="round" />
<path d="M77.00,-8.00 L71.00,-8.00" fill="none" stroke="#111" stroke-width="1.4400000000000002" stroke-linejoin="round" stroke-linecap="round" />
<path d="M81.02,4.00 L77.00,8.00 L72.98,4.00 L72.98,-4.00 L77.00,-8.00 L81.02,-4.00 Z" fill="#fff" stroke="#111" stroke-width="1.6" stroke-linejoin="round" stroke-linecap="round" />
</g>
<g transform="translate(32.9,533.6) rotate(30)">
<line x1="22" y1="0" x2="42" y2="0" stroke="#111" stroke-width="1.4" />
<line x1="52" y1="0" x2="64" y2="0" stroke="#111" stroke-width="1.4" />
<ellipse cx="5.00" cy="0" rx="1.68" ry="2.9" fill="#fff" stroke="#111" stroke-width="1.1"/>
<ellipse cx="6.89" cy="0" rx="1.68" ry="2.9" fill="#fff" stroke="#111" stroke-width="1.1"/>
<ellipse cx="8.78" cy="0" rx="1.68" ry="2.9" fill="#fff" stroke="#111" stroke-width="1.1"/>
<ellipse cx="10.67" cy="0" rx="1.68" ry="2.9" fill="#fff" stroke="#111" stroke-width="1.1"/>
<ellipse cx="12.56" cy="0" rx="1.68" ry="2.9" fill="#fff" stroke="#111" stroke-width="1.1"/>
<ellipse cx="14.44" cy="0" rx="1.68" ry="2.9" fill="#fff" stroke="#111" stroke-width="1.1"/>
<ellipse cx="16.33" cy="0" rx="1.68" ry="2.9" fill="#fff" stroke="#111" stroke-width="1.1"/>
<ellipse cx="18.22" cy="0" rx="1.68" ry="2.9" fill="#fff" stroke="#111" stroke-width="1.1"/>
<ellipse cx="20.11" cy="0" rx="1.68" ry="2.9" fill="#fff" stroke="#111" stroke-width="1.1"/>
<ellipse cx="22.00" cy="0" rx="1.68" ry="2.9" fill="#fff" stroke="#111" stroke-width="1.1"/>
<path d="M2.5,-6.0 L4.5,-6.0 A3.4799999999999995,6.0 0 0 1 4.5,6.0 L2.5,6.0 A3.4799999999999995,6.0 0 0 1 2.5,-6.0 Z" fill="#fff" stroke="#111" stroke-width="1.6" stroke-linejoin="round" />
<ellipse cx="2.5" cy="0" rx="3.4799999999999995" ry="6.0" fill="#fff" stroke="#111" stroke-width="1.6" />
<path d="M-5.61,-2.60 L-3.00,-5.20 L2.00,-5.20 L4.61,-2.60 L4.61,2.60 L2.00,5.20 L-3.00,5.20 L-5.61,2.60 Z" fill="#fff" stroke="#111" stroke-width="1.6" stroke-linejoin="round" stroke-linecap="round" />
<path d="M-0.39,2.60 L4.61,2.60" fill="none" stroke="#111" stroke-width="1.4400000000000002" stroke-linejoin="round" stroke-linecap="round" />
<path d="M-3.00,5.20 L2.00,5.20" fill="none" stroke="#111" stroke-width="1.4400000000000002" stroke-linejoin="round" stroke-linecap="round" />
<path d="M-3.00,-5.20 L2.00,-5.20" fill="none" stroke="#111" stroke-width="1.4400000000000002" stroke-linejoin="round" stroke-linecap="round" />
<path d="M-0.39,-2.60 L4.61,-2.60" fill="none" stroke="#111" stroke-width="1.4400000000000002" stroke-linejoin="round" stroke-linecap="round" />
<path d="M-0.39,2.60 L-3.00,5.20 L-5.61,2.60 L-5.61,-2.60 L-3.00,-5.20 L-0.39,-2.60 Z" fill="#fff" stroke="#111" stroke-width="1.6" stroke-linejoin="round" stroke-linecap="round" />
<ellipse cx="47.3" cy="0" rx="3.60" ry="6.2" fill="#fff" stroke="#111" stroke-width="2.0"/>
<ellipse cx="47.3" cy="0" rx="1.62" ry="2.8" fill="#fff" stroke="#111" stroke-width="1.6"/>
</g>
<line x1="146.4" y1="602" x2="278.7" y2="677.5" stroke="#111" stroke-width="1.4" />
<line x1="289.4" y1="682.1" x2="346.7" y2="715.6" stroke="#111" stroke-width="1.4" />
<g transform="translate(352.8,718.1) rotate(30)">
<path d="M-5.61,-3.10 L-2.50,-6.20 L2.50,-6.20 L5.61,-3.10 L5.61,3.10 L2.50,6.20 L-2.50,6.20 L-5.61,3.10 Z" fill="#333" stroke="#111" stroke-width="1.8" stroke-linejoin="round" stroke-linecap="round" />
<path d="M0.61,3.10 L5.61,3.10" fill="none" stroke="#111" stroke-width="1.62" stroke-linejoin="round" stroke-linecap="round" />
<path d="M-2.50,6.20 L2.50,6.20" fill="none" stroke="#111" stroke-width="1.62" stroke-linejoin="round" stroke-linecap="round" />
<path d="M-2.50,-6.20 L2.50,-6.20" fill="none" stroke="#111" stroke-width="1.62" stroke-linejoin="round" stroke-linecap="round" />
<path d="M0.61,-3.10 L5.61,-3.10" fill="none" stroke="#111" stroke-width="1.62" stroke-linejoin="round" stroke-linecap="round" />
<path d="M0.61,3.10 L-2.50,6.20 L-5.61,3.10 L-5.61,-3.10 L-2.50,-6.20 L0.61,-3.10 Z" fill="#333" stroke="#111" stroke-width="1.8" stroke-linejoin="round" stroke-linecap="round" />
<ellipse cx="-2.5" cy="0" rx="1.62" ry="2.79" fill="#fff" stroke="#111" stroke-width="1.62"/>
</g>
<line x1="346.2" y1="721.2" x2="328" y2="731.8" stroke="#111" stroke-width="1.4" />
<g transform="translate(648.2,673.2) rotate(29)">
<line x1="4" y1="0" x2="30" y2="0" stroke="#111" stroke-width="1.4" />
<line x1="38" y1="0" x2="56" y2="0" stroke="#111" stroke-width="1.4" />
<line x1="82" y1="0" x2="114" y2="0" stroke="#111" stroke-width="1.4" />
<path d="M-4.31,-2.10 L-2.20,-4.20 L2.20,-4.20 L4.31,-2.10 L4.31,2.10 L2.20,4.20 L-2.20,4.20 L-4.31,2.10 Z" fill="#222" stroke="#111" stroke-width="1.8" stroke-linejoin="round" stroke-linecap="round" />
<path d="M-0.09,2.10 L4.31,2.10" fill="none" stroke="#111" stroke-width="1.62" stroke-linejoin="round" stroke-linecap="round" />
<path d="M-2.20,4.20 L2.20,4.20" fill="none" stroke="#111" stroke-width="1.62" stroke-linejoin="round" stroke-linecap="round" />
<path d="M-2.20,-4.20 L2.20,-4.20" fill="none" stroke="#111" stroke-width="1.62" stroke-linejoin="round" stroke-linecap="round" />
<path d="M-0.09,-2.10 L4.31,-2.10" fill="none" stroke="#111" stroke-width="1.62" stroke-linejoin="round" stroke-linecap="round" />
<path d="M-0.09,2.10 L-2.20,4.20 L-4.31,2.10 L-4.31,-2.10 L-2.20,-4.20 L-0.09,-2.10 Z" fill="#222" stroke="#111" stroke-width="1.8" stroke-linejoin="round" stroke-linecap="round" />
<ellipse cx="-2.2" cy="0" rx="0.85" ry="1.47" fill="#999" stroke="#111" stroke-width="1.62"/>
<path d="M29.69,-2.10 L31.80,-4.20 L35.60,-4.20 L37.71,-2.10 L37.71,2.10 L35.60,4.20 L31.80,4.20 L29.69,2.10 Z" fill="#222" stroke="#111" stroke-width="1.8" stroke-linejoin="round" stroke-linecap="round" />
<path d="M33.91,2.10 L37.71,2.10" fill="none" stroke="#111" stroke-width="1.62" stroke-linejoin="round" stroke-linecap="round" />
<path d="M31.80,4.20 L35.60,4.20" fill="none" stroke="#111" stroke-width="1.62" stroke-linejoin="round" stroke-linecap="round" />
<path d="M31.80,-4.20 L35.60,-4.20" fill="none" stroke="#111" stroke-width="1.62" stroke-linejoin="round" stroke-linecap="round" />
<path d="M33.91,-2.10 L37.71,-2.10" fill="none" stroke="#111" stroke-width="1.62" stroke-linejoin="round" stroke-linecap="round" />
<path d="M33.91,2.10 L31.80,4.20 L29.69,2.10 L29.69,-2.10 L31.80,-4.20 L33.91,-2.10 Z" fill="#222" stroke="#111" stroke-width="1.8" stroke-linejoin="round" stroke-linecap="round" />
<ellipse cx="31.8" cy="0" rx="0.85" ry="1.47" fill="#999" stroke="#111" stroke-width="1.62"/>
<ellipse cx="114.00" cy="0" rx="1.51" ry="2.6" fill="#fff" stroke="#111" stroke-width="1.1"/>
<ellipse cx="117.00" cy="0" rx="1.51" ry="2.6" fill="#fff" stroke="#111" stroke-width="1.1"/>
<ellipse cx="120.00" cy="0" rx="1.51" ry="2.6" fill="#fff" stroke="#111" stroke-width="1.1"/>
<ellipse cx="123.00" cy="0" rx="1.51" ry="2.6" fill="#fff" stroke="#111" stroke-width="1.1"/>
<ellipse cx="126.00" cy="0" rx="1.51" ry="2.6" fill="#fff" stroke="#111" stroke-width="1.1"/>
<ellipse cx="129.00" cy="0" rx="1.51" ry="2.6" fill="#fff" stroke="#111" stroke-width="1.1"/>
<ellipse cx="132.00" cy="0" rx="1.51" ry="2.6" fill="#fff" stroke="#111" stroke-width="1.1"/>
<path d="M132.5,-4.6 L136,-4.6 A2.6679999999999997,4.6 0 0 1 136,4.6 L132.5,4.6 A2.6679999999999997,4.6 0 0 1 132.5,-4.6 Z" fill="#fff" stroke="#111" stroke-width="1.6" stroke-linejoin="round" />
<ellipse cx="136" cy="0" rx="2.6679999999999997" ry="4.6" fill="#fff" stroke="#111" stroke-width="1.6" />
<ellipse cx="136" cy="0" rx="1.33" ry="2.3" fill="#fff" stroke="#111" stroke-width="1.0"/>
</g>
<g transform="translate(707.5,713.7) rotate(0)">
<path d="M-11,-7 C-14,-1 -13,8 -7,13 C-2,17 5,15 8,9" fill="none" stroke="#111" stroke-width="1.5" stroke-linejoin="round" stroke-linecap="round" />
<path d="M-8,-6 C-10,-1 -9,6 -5,10 C-1,13 3,12 5,8" fill="none" stroke="#111" stroke-width="1.3" stroke-linejoin="round" stroke-linecap="round" />
<path d="M-11,-7 L-8,-15 Q-5,-18.5 -2,-16 L-2,-8 L-8,-5" fill="#fff" stroke="#111" stroke-width="1.5" stroke-linejoin="round" stroke-linecap="round" />
<ellipse cx="-5.3" cy="-11.5" rx="1.7" ry="2.6" transform="rotate(20 -5.3 -11.5)" fill="none" stroke="#111" stroke-width="1.2" />
<path d="M1,-4 L2,-11.5 Q5,-15.5 8.5,-12.5 L10,-6 L13,-1 L13,8 Q11,13 7,14 L3,15 L-1,10 L1,3 Z" fill="#fff" stroke="#111" stroke-width="1.5" stroke-linejoin="round" stroke-linecap="round" />
<ellipse cx="5.2" cy="-8.0" rx="1.7" ry="2.6" transform="rotate(20 5.2 -8.0)" fill="none" stroke="#111" stroke-width="1.2" />
<path d="M3.5,-2 L3.5,13 M7,-2.5 L7,13.5 M10,-5 L10,11" fill="none" stroke="#111" stroke-width="1.2" stroke-linejoin="round" stroke-linecap="round" />
</g>
<line x1="645" y1="676" x2="606.3" y2="697.9" stroke="#111" stroke-width="1.4" />
<line x1="674.9" y1="694.7" x2="637.8" y2="716.5" stroke="#111" stroke-width="1.4" />
<line x1="695" y1="720.5" x2="670" y2="734.6" stroke="#111" stroke-width="1.4" />
<line x1="760.5" y1="739" x2="717.7" y2="762" stroke="#111" stroke-width="1.4" />
<line x1="1064.9" y1="606" x2="1064.9" y2="623" stroke="#111" stroke-width="1.4" />
<line x1="1064.9" y1="638" x2="1064.9" y2="655" stroke="#111" stroke-width="1.4" />
<line x1="1064.9" y1="664" x2="1064.9" y2="677" stroke="#111" stroke-width="1.4" />
<path d="M1049.3,613.5 L1049.3,600 A7.8,9.5 0 0 1 1064.9,600 L1064.9,605.5" fill="none" stroke="#111" stroke-width="5.6" stroke-linejoin="round" stroke-linecap="round" stroke-linecap="round"/>
<path d="M1049.3,613.5 L1049.3,600 A7.8,9.5 0 0 1 1064.9,600 L1064.9,605.5" fill="none" stroke="#fff" stroke-width="2.8" stroke-linejoin="round" stroke-linecap="round" stroke-linecap="round"/>
<g transform="translate(1064.9,630.3) rotate(90)">
<path d="M-6.65,-4.15 L-3.20,-8.30 L3.80,-8.30 L7.25,-4.15 L7.25,4.15 L3.80,8.30 L-3.20,8.30 L-6.65,4.15 Z" fill="#fff" stroke="#111" stroke-width="1.6" stroke-linejoin="round" stroke-linecap="round" />
<path d="M0.25,4.15 L7.25,4.15" fill="none" stroke="#111" stroke-width="1.4400000000000002" stroke-linejoin="round" stroke-linecap="round" />
<path d="M-3.20,8.30 L3.80,8.30" fill="none" stroke="#111" stroke-width="1.4400000000000002" stroke-linejoin="round" stroke-linecap="round" />
<path d="M-3.20,-8.30 L3.80,-8.30" fill="none" stroke="#111" stroke-width="1.4400000000000002" stroke-linejoin="round" stroke-linecap="round" />
<path d="M0.25,-4.15 L7.25,-4.15" fill="none" stroke="#111" stroke-width="1.4400000000000002" stroke-linejoin="round" stroke-linecap="round" />
<path d="M0.25,4.15 L-3.20,8.30 L-6.65,4.15 L-6.65,-4.15 L-3.20,-8.30 L0.25,-4.15 Z" fill="#fff" stroke="#111" stroke-width="1.6" stroke-linejoin="round" stroke-linecap="round" />
<ellipse cx="-3.2" cy="0" rx="1.99" ry="4.15" fill="#fff" stroke="#111" stroke-width="1.4400000000000002"/>
</g>
<g transform="translate(1064.9,659.4) rotate(90)">
<path d="M-2,-4.2 L3,-4.2 A2.016,4.2 0 0 1 3,4.2 L-2,4.2 A2.016,4.2 0 0 1 -2,-4.2 Z" fill="#fff" stroke="#111" stroke-width="1.5" stroke-linejoin="round" />
<ellipse cx="-2" cy="0" rx="2.016" ry="4.2" fill="#fff" stroke="#111" stroke-width="1.5" />
<ellipse cx="-2" cy="0" rx="1.06" ry="2.2" fill="#555" stroke="#111" stroke-width="1.0"/>
</g>
<g transform="translate(1064.9,676) rotate(90)">
<ellipse cx="12.00" cy="0" rx="1.92" ry="4.0" fill="#fff" stroke="#111" stroke-width="1.2"/>
<ellipse cx="14.00" cy="0" rx="1.92" ry="4.0" fill="#fff" stroke="#111" stroke-width="1.2"/>
<ellipse cx="16.00" cy="0" rx="1.92" ry="4.0" fill="#fff" stroke="#111" stroke-width="1.2"/>
<ellipse cx="18.00" cy="0" rx="1.92" ry="4.0" fill="#fff" stroke="#111" stroke-width="1.2"/>
<ellipse cx="20.00" cy="0" rx="1.92" ry="4.0" fill="#fff" stroke="#111" stroke-width="1.2"/>
<ellipse cx="22.00" cy="0" rx="1.92" ry="4.0" fill="#fff" stroke="#111" stroke-width="1.2"/>
<path d="M7,-5.2 L12,-5.2 A2.496,5.2 0 0 1 12,5.2 L7,5.2 A2.496,5.2 0 0 1 7,-5.2 Z" fill="#fff" stroke="#111" stroke-width="1.6" stroke-linejoin="round" />
<ellipse cx="7" cy="0" rx="2.496" ry="5.2" fill="#fff" stroke="#111" stroke-width="1.6" />
<path d="M0.26,-3.30 L3.00,-6.60 L8.00,-6.60 L10.74,-3.30 L10.74,3.30 L8.00,6.60 L3.00,6.60 L0.26,3.30 Z" fill="#fff" stroke="#111" stroke-width="1.6" stroke-linejoin="round" stroke-linecap="round" />
<path d="M5.74,3.30 L10.74,3.30" fill="none" stroke="#111" stroke-width="1.4400000000000002" stroke-linejoin="round" stroke-linecap="round" />
<path d="M3.00,6.60 L8.00,6.60" fill="none" stroke="#111" stroke-width="1.4400000000000002" stroke-linejoin="round" stroke-linecap="round" />
<path d="M3.00,-6.60 L8.00,-6.60" fill="none" stroke="#111" stroke-width="1.4400000000000002" stroke-linejoin="round" stroke-linecap="round" />
<path d="M5.74,-3.30 L10.74,-3.30" fill="none" stroke="#111" stroke-width="1.4400000000000002" stroke-linejoin="round" stroke-linecap="round" />
<path d="M5.74,3.30 L3.00,6.60 L0.26,3.30 L0.26,-3.30 L3.00,-6.60 L5.74,-3.30 Z" fill="#fff" stroke="#111" stroke-width="1.6" stroke-linejoin="round" stroke-linecap="round" />
<path d="M0.5,-4.3 L3,-4.3 A2.064,4.3 0 0 1 3,4.3 L0.5,4.3 A2.064,4.3 0 0 1 0.5,-4.3 Z" fill="#fff" stroke="#111" stroke-width="1.6" stroke-linejoin="round" />
<ellipse cx="0.5" cy="0" rx="2.064" ry="4.3" fill="#fff" stroke="#111" stroke-width="1.6" />
<ellipse cx="0.5" cy="0" rx="0.96" ry="2.0" fill="#666" stroke="#111" stroke-width="1.0"/>
</g>
<g transform="translate(997.6,675.1) rotate(30)">
<line x1="6" y1="0" x2="29" y2="0" stroke="#111" stroke-width="1.4" />
<line x1="39.5" y1="0" x2="77" y2="0" stroke="#111" stroke-width="1.4" />
<line x1="95" y1="0" x2="130" y2="0" stroke="#111" stroke-width="1.4" />
<path d="M-6.67,-3.65 L-3.00,-7.30 L3.00,-7.30 L6.67,-3.65 L6.67,3.65 L3.00,7.30 L-3.00,7.30 L-6.67,3.65 Z" fill="#fff" stroke="#111" stroke-width="1.6" stroke-linejoin="round" stroke-linecap="round" />
<path d="M0.67,3.65 L6.67,3.65" fill="none" stroke="#111" stroke-width="1.4400000000000002" stroke-linejoin="round" stroke-linecap="round" />
<path d="M-3.00,7.30 L3.00,7.30" fill="none" stroke="#111" stroke-width="1.4400000000000002" stroke-linejoin="round" stroke-linecap="round" />
<path d="M-3.00,-7.30 L3.00,-7.30" fill="none" stroke="#111" stroke-width="1.4400000000000002" stroke-linejoin="round" stroke-linecap="round" />
<path d="M0.67,-3.65 L6.67,-3.65" fill="none" stroke="#111" stroke-width="1.4400000000000002" stroke-linejoin="round" stroke-linecap="round" />
<path d="M0.67,3.65 L-3.00,7.30 L-6.67,3.65 L-6.67,-3.65 L-3.00,-7.30 L0.67,-3.65 Z" fill="#fff" stroke="#111" stroke-width="1.6" stroke-linejoin="round" stroke-linecap="round" />
<ellipse cx="-3" cy="0" rx="2.33" ry="4.02" fill="#fff" stroke="#111" stroke-width="1.4400000000000002"/>
<ellipse cx="33.9" cy="0" rx="3.65" ry="6.3" fill="#fff" stroke="#111" stroke-width="2.4"/>
<ellipse cx="33.9" cy="0" rx="1.51" ry="2.6" fill="#fff" stroke="#111" stroke-width="1.92"/>
<ellipse cx="130.00" cy="0" rx="1.91" ry="3.3" fill="#fff" stroke="#111" stroke-width="1.2"/>
<ellipse cx="132.00" cy="0" rx="1.91" ry="3.3" fill="#fff" stroke="#111" stroke-width="1.2"/>
<ellipse cx="134.00" cy="0" rx="1.91" ry="3.3" fill="#fff" stroke="#111" stroke-width="1.2"/>
<ellipse cx="136.00" cy="0" rx="1.91" ry="3.3" fill="#fff" stroke="#111" stroke-width="1.2"/>
<ellipse cx="138.00" cy="0" rx="1.91" ry="3.3" fill="#fff" stroke="#111" stroke-width="1.2"/>
<ellipse cx="140.00" cy="0" rx="1.91" ry="3.3" fill="#fff" stroke="#111" stroke-width="1.2"/>
<ellipse cx="142.00" cy="0" rx="1.91" ry="3.3" fill="#fff" stroke="#111" stroke-width="1.2"/>
<ellipse cx="144.00" cy="0" rx="1.91" ry="3.3" fill="#fff" stroke="#111" stroke-width="1.2"/>
<ellipse cx="146.00" cy="0" rx="1.91" ry="3.3" fill="#fff" stroke="#111" stroke-width="1.2"/>
<path d="M143.28,-3.20 L146.50,-6.40 L152.50,-6.40 L155.72,-3.20 L155.72,3.20 L152.50,6.40 L146.50,6.40 L143.28,3.20 Z" fill="#fff" stroke="#111" stroke-width="1.6" stroke-linejoin="round" stroke-linecap="round" />
<path d="M152.50,6.40 L146.50,6.40" fill="none" stroke="#111" stroke-width="1.4400000000000002" stroke-linejoin="round" stroke-linecap="round" />
<path d="M149.29,3.20 L143.29,3.20" fill="none" stroke="#111" stroke-width="1.4400000000000002" stroke-linejoin="round" stroke-linecap="round" />
<path d="M149.29,-3.20 L143.29,-3.20" fill="none" stroke="#111" stroke-width="1.4400000000000002" stroke-linejoin="round" stroke-linecap="round" />
<path d="M152.50,-6.40 L146.50,-6.40" fill="none" stroke="#111" stroke-width="1.4400000000000002" stroke-linejoin="round" stroke-linecap="round" />
<path d="M155.71,3.20 L152.50,6.40 L149.29,3.20 L149.29,-3.20 L152.50,-6.40 L155.71,-3.20 Z" fill="#fff" stroke="#111" stroke-width="1.6" stroke-linejoin="round" stroke-linecap="round" />
</g>
<path d="M1053.00,724.90 L1066.60,717.50 L1078.70,724.60 L1064.50,733.70 Z" fill="#fff" stroke="#111" stroke-width="1.5" stroke-linejoin="round" stroke-linecap="round" />
<path d="M1053,724.9 L1053,726.6 L1064.5,735.6 L1077,728" fill="none" stroke="#111" stroke-width="1.4" stroke-linejoin="round" stroke-linecap="round" />
<ellipse cx="1064.5" cy="726" rx="4.6" ry="2.3" transform="rotate(-8 1064.5 726)" fill="none" stroke="#111" stroke-width="1.3" />
<path d="M1066.20,717.70 L1077.10,711.60 L1080.60,714.10 L1080.60,736.60 L1077.40,734.60 L1077.40,724.20 Z" fill="#fff" stroke="#111" stroke-width="1.5" stroke-linejoin="round" stroke-linecap="round" />
<path d="M1077.1,711.6 L1077.4,724.2" fill="none" stroke="#111" stroke-width="1.2" stroke-linejoin="round" stroke-linecap="round" />
<path d="M1069.5,731 L1077.4,734.6" fill="none" stroke="#111" stroke-width="1.3" stroke-linejoin="round" stroke-linecap="round" />
<circle cx="1074.3" cy="719.2" r="1.5" fill="#111"/>
<g transform="translate(1064.8,760.4) rotate(90)">
<path d="M-4.49,-3.60 L-1.50,-7.20 L2.50,-7.20 L5.49,-3.60 L5.49,3.60 L2.50,7.20 L-1.50,7.20 L-4.49,3.60 Z" fill="#444" stroke="#111" stroke-width="2.0" stroke-linejoin="round" stroke-linecap="round" />
<path d="M1.49,3.60 L5.49,3.60" fill="none" stroke="#111" stroke-width="1.8" stroke-linejoin="round" stroke-linecap="round" />
<path d="M-1.50,7.20 L2.50,7.20" fill="none" stroke="#111" stroke-width="1.8" stroke-linejoin="round" stroke-linecap="round" />
<path d="M-1.50,-7.20 L2.50,-7.20" fill="none" stroke="#111" stroke-width="1.8" stroke-linejoin="round" stroke-linecap="round" />
<path d="M1.49,-3.60 L5.49,-3.60" fill="none" stroke="#111" stroke-width="1.8" stroke-linejoin="round" stroke-linecap="round" />
<path d="M1.49,3.60 L-1.50,7.20 L-4.49,3.60 L-4.49,-3.60 L-1.50,-7.20 L1.49,-3.60 Z" fill="#444" stroke="#111" stroke-width="2.0" stroke-linejoin="round" stroke-linecap="round" />
<ellipse cx="-1.5" cy="0" rx="1.73" ry="3.60" fill="#ddd" stroke="#111" stroke-width="1.8"/>
</g>
<g transform="translate(1064.7,793.8) rotate(90)">
<path d="M0,-7.4 L9,-7.4 A3.552,7.4 0 0 1 9,7.4 L0,7.4 A3.552,7.4 0 0 1 0,-7.4 Z" fill="#fff" stroke="#111" stroke-width="1.6" stroke-linejoin="round" />
<ellipse cx="0" cy="0" rx="3.552" ry="7.4" fill="#fff" stroke="#111" stroke-width="1.6" />
<ellipse cx="0" cy="0" rx="2.54" ry="5.3" fill="#fff" stroke="#111" stroke-width="1.3"/>
</g>
<path d="M1057.50,803.00 L1072.20,803.00 L1072.50,812.00 L1062.00,820.00 L1056.00,812.00 Z" fill="#fff" stroke="#111" stroke-width="1.5" stroke-linejoin="round" stroke-linecap="round" />
<g transform="translate(1061.5,810.5) rotate(150)">
<path d="M0,-5.2 L8,-5.2 A3.224,5.2 0 0 1 8,5.2 L0,5.2 A3.224,5.2 0 0 1 0,-5.2 Z" fill="#fff" stroke="#111" stroke-width="1.5" stroke-linejoin="round" />
<ellipse cx="8" cy="0" rx="3.224" ry="5.2" fill="#fff" stroke="#111" stroke-width="1.5" />
<ellipse cx="2.50" cy="0" rx="3.22" ry="5.2" fill="#fff" stroke="#111" stroke-width="1.6"/>
<ellipse cx="3.75" cy="0" rx="3.22" ry="5.2" fill="#fff" stroke="#111" stroke-width="1.6"/>
<ellipse cx="5.00" cy="0" rx="3.22" ry="5.2" fill="#fff" stroke="#111" stroke-width="1.6"/>
<ellipse cx="8" cy="0" rx="2.11" ry="3.4" fill="#fff" stroke="#111" stroke-width="1.1"/>
</g>
<g transform="translate(1036.8,824.8) rotate(-30)">
<path d="M-10.62,-4.60 L-6.00,-9.20 L8.00,-9.20 L12.62,-4.60 L12.62,4.60 L8.00,9.20 L-6.00,9.20 L-10.62,4.60 Z" fill="#fff" stroke="#111" stroke-width="1.6" stroke-linejoin="round" stroke-linecap="round" />
<path d="M-1.38,4.60 L12.62,4.60" fill="none" stroke="#111" stroke-width="1.4400000000000002" stroke-linejoin="round" stroke-linecap="round" />
<path d="M-6.00,9.20 L8.00,9.20" fill="none" stroke="#111" stroke-width="1.4400000000000002" stroke-linejoin="round" stroke-linecap="round" />
<path d="M-6.00,-9.20 L8.00,-9.20" fill="none" stroke="#111" stroke-width="1.4400000000000002" stroke-linejoin="round" stroke-linecap="round" />
<path d="M-1.38,-4.60 L12.62,-4.60" fill="none" stroke="#111" stroke-width="1.4400000000000002" stroke-linejoin="round" stroke-linecap="round" />
<path d="M-1.38,4.60 L-6.00,9.20 L-10.62,4.60 L-10.62,-4.60 L-6.00,-9.20 L-1.38,-4.60 Z" fill="#fff" stroke="#111" stroke-width="1.6" stroke-linejoin="round" stroke-linecap="round" />
<ellipse cx="-6" cy="0" rx="3.36" ry="5.8" fill="#1a1a1a" stroke="#111" stroke-width="1.6"/>
<path d="M-7.6,-3.6 A2.0,3.8 0 0 0 -7.6,3.6" fill="none" stroke="#ddd" stroke-width="1.6" stroke-linejoin="round" stroke-linecap="round" />
</g>
<g transform="translate(996.5,849.2) rotate(-28.5)">
<rect x="-1" y="-5.9" width="14" height="11.8" fill="#fff"/>
<path d="M-2,-5.9 L12.5,-5.9 M-2,5.9 L12.5,5.9" fill="none" stroke="#111" stroke-width="1.6" stroke-linejoin="round" stroke-linecap="round" />
<path d="M0,-5.9 A3.4,5.9 0 0 1 0,5.9" fill="none" stroke="#111" stroke-width="2.2" stroke-linejoin="round" stroke-linecap="round" />
<path d="M8.95,-4.10 L12.50,-8.20 L21.50,-8.20 L25.05,-4.10 L25.05,4.10 L21.50,8.20 L12.50,8.20 L8.95,4.10 Z" fill="#fff" stroke="#111" stroke-width="1.5" stroke-linejoin="round" stroke-linecap="round" />
<path d="M21.50,8.20 L12.50,8.20" fill="none" stroke="#111" stroke-width="1.35" stroke-linejoin="round" stroke-linecap="round" />
<path d="M17.95,4.10 L8.95,4.10" fill="none" stroke="#111" stroke-width="1.35" stroke-linejoin="round" stroke-linecap="round" />
<path d="M17.95,-4.10 L8.95,-4.10" fill="none" stroke="#111" stroke-width="1.35" stroke-linejoin="round" stroke-linecap="round" />
<path d="M21.50,-8.20 L12.50,-8.20" fill="none" stroke="#111" stroke-width="1.35" stroke-linejoin="round" stroke-linecap="round" />
<path d="M25.05,4.10 L21.50,8.20 L17.95,4.10 L17.95,-4.10 L21.50,-8.20 L25.05,-4.10 Z" fill="#fff" stroke="#111" stroke-width="1.5" stroke-linejoin="round" stroke-linecap="round" />
</g>
<path d="M1066.8,122 L1066.8,118.5 Q1066.8,111.2 1075,111.6 L1079,113" fill="none" stroke="#111" stroke-width="7.2" stroke-linejoin="round" stroke-linecap="round" stroke-linecap="butt"/>
<path d="M1066.8,122.5 L1066.8,118.5 Q1066.8,111.2 1075,111.6 L1079.5,113.2" fill="none" stroke="#fff" stroke-width="4.2" stroke-linejoin="round" stroke-linecap="round" stroke-linecap="butt"/>
<g transform="translate(1077.0,113.7) rotate(30.5)">
<rect x="-1" y="-6.1" width="19" height="12.2" fill="#fff"/>
<path d="M-2,-6.1 L18.5,-6.1 M-1,6.1 L18.5,6.1" fill="none" stroke="#111" stroke-width="1.6" stroke-linejoin="round" stroke-linecap="round" />
<path d="M-2,-6.1 A3.5,6.1 0 0 0 -1,6.1" fill="none" stroke="#111" stroke-width="1.4" stroke-linejoin="round" stroke-linecap="round" />
<path d="M16.5,-6.1 A3.5,6.1 0 0 0 16.5,6.1" fill="none" stroke="#111" stroke-width="2.2" stroke-linejoin="round" stroke-linecap="round" />
</g>
<g transform="translate(1066.8,125.9) rotate(90)">
<path d="M-6.33,-4.00 L-3.00,-8.00 L3.20,-8.00 L6.53,-4.00 L6.53,4.00 L3.20,8.00 L-3.00,8.00 L-6.33,4.00 Z" fill="#fff" stroke="#111" stroke-width="1.5" stroke-linejoin="round" stroke-linecap="round" />
<path d="M0.33,4.00 L6.53,4.00" fill="none" stroke="#111" stroke-width="1.35" stroke-linejoin="round" stroke-linecap="round" />
<path d="M-3.00,8.00 L3.20,8.00" fill="none" stroke="#111" stroke-width="1.35" stroke-linejoin="round" stroke-linecap="round" />
<path d="M-3.00,-8.00 L3.20,-8.00" fill="none" stroke="#111" stroke-width="1.35" stroke-linejoin="round" stroke-linecap="round" />
<path d="M0.33,-4.00 L6.53,-4.00" fill="none" stroke="#111" stroke-width="1.35" stroke-linejoin="round" stroke-linecap="round" />
<path d="M0.33,4.00 L-3.00,8.00 L-6.33,4.00 L-6.33,-4.00 L-3.00,-8.00 L0.33,-4.00 Z" fill="#fff" stroke="#111" stroke-width="1.5" stroke-linejoin="round" stroke-linecap="round" />
</g>
<path d="M1066.8,123 L1066.8,119" fill="none" stroke="#fff" stroke-width="4.2" stroke-linejoin="round" stroke-linecap="round" stroke-linecap="butt"/>
<line x1="1066.9" y1="133" x2="1066.9" y2="148" stroke="#111" stroke-width="1.4" />
<line x1="1066.9" y1="171" x2="1066.9" y2="184" stroke="#111" stroke-width="1.4" />
<line x1="1066.9" y1="203" x2="1066.9" y2="218" stroke="#111" stroke-width="1.4" />
<line x1="1066.9" y1="226" x2="1066.9" y2="243" stroke="#111" stroke-width="1.4" />
<line x1="1066.9" y1="251" x2="1066.9" y2="268" stroke="#111" stroke-width="1.4" />
<g transform="translate(1066.9,148.2) rotate(90)">
<path d="M15,-6.0 L21,-6.0 A2.88,6.0 0 0 1 21,6.0 L15,6.0 A2.88,6.0 0 0 1 15,-6.0 Z" fill="#fff" stroke="#111" stroke-width="1.6" stroke-linejoin="round" />
<ellipse cx="15" cy="0" rx="2.88" ry="6.0" fill="#fff" stroke="#111" stroke-width="1.6" />
<path d="M4.01,-4.80 L8.00,-9.60 L14.00,-9.60 L17.99,-4.80 L17.99,4.80 L14.00,9.60 L8.00,9.60 L4.01,4.80 Z" fill="#555" stroke="#111" stroke-width="2.0" stroke-linejoin="round" stroke-linecap="round" />
<path d="M11.99,4.80 L17.99,4.80" fill="none" stroke="#111" stroke-width="1.8" stroke-linejoin="round" stroke-linecap="round" />
<path d="M8.00,9.60 L14.00,9.60" fill="none" stroke="#111" stroke-width="1.8" stroke-linejoin="round" stroke-linecap="round" />
<path d="M8.00,-9.60 L14.00,-9.60" fill="none" stroke="#111" stroke-width="1.8" stroke-linejoin="round" stroke-linecap="round" />
<path d="M11.99,-4.80 L17.99,-4.80" fill="none" stroke="#111" stroke-width="1.8" stroke-linejoin="round" stroke-linecap="round" />
<path d="M11.99,4.80 L8.00,9.60 L4.01,4.80 L4.01,-4.80 L8.00,-9.60 L11.99,-4.80 Z" fill="#555" stroke="#111" stroke-width="2.0" stroke-linejoin="round" stroke-linecap="round" />
<path d="M2,-5.0 L8,-5.0 A2.4,5.0 0 0 1 8,5.0 L2,5.0 A2.4,5.0 0 0 1 2,-5.0 Z" fill="#fff" stroke="#111" stroke-width="1.6" stroke-linejoin="round" />
<ellipse cx="2" cy="0" rx="2.4" ry="5.0" fill="#fff" stroke="#111" stroke-width="1.6" />
<ellipse cx="2" cy="0" rx="1.25" ry="2.6" fill="#fff" stroke="#111" stroke-width="1.0"/>
</g>
<g transform="translate(1066.9,183.4) rotate(90)">
<ellipse cx="9.00" cy="0" rx="2.30" ry="4.8" fill="#333" stroke="#111" stroke-width="1.4"/>
<ellipse cx="10.36" cy="0" rx="2.30" ry="4.8" fill="#333" stroke="#111" stroke-width="1.4"/>
<ellipse cx="11.71" cy="0" rx="2.30" ry="4.8" fill="#333" stroke="#111" stroke-width="1.4"/>
<ellipse cx="13.07" cy="0" rx="2.30" ry="4.8" fill="#333" stroke="#111" stroke-width="1.4"/>
<ellipse cx="14.43" cy="0" rx="2.30" ry="4.8" fill="#333" stroke="#111" stroke-width="1.4"/>
<ellipse cx="15.79" cy="0" rx="2.30" ry="4.8" fill="#333" stroke="#111" stroke-width="1.4"/>
<ellipse cx="17.14" cy="0" rx="2.30" ry="4.8" fill="#333" stroke="#111" stroke-width="1.4"/>
<ellipse cx="18.50" cy="0" rx="2.30" ry="4.8" fill="#333" stroke="#111" stroke-width="1.4"/>
<path d="M3,-7.5 L8.5,-7.5 A3.5999999999999996,7.5 0 0 1 8.5,7.5 L3,7.5 A3.5999999999999996,7.5 0 0 1 3,-7.5 Z" fill="#333" stroke="#111" stroke-width="1.8" stroke-linejoin="round" />
<ellipse cx="3" cy="0" rx="3.5999999999999996" ry="7.5" fill="#333" stroke="#111" stroke-width="1.8" />
<ellipse cx="3" cy="0" rx="2.16" ry="4.5" fill="#777" stroke="#111" stroke-width="1.0"/>
</g>
<g transform="translate(1066.9,221.6) rotate(90)">
<ellipse cx="0" cy="0" rx="3.84" ry="8.0" fill="#fff" stroke="#111" stroke-width="2.0"/>
<ellipse cx="0" cy="0" rx="2.26" ry="4.7" fill="#fff" stroke="#111" stroke-width="1.6"/>
</g>
<g transform="translate(1066.9,247.0) rotate(90)">
<ellipse cx="0" cy="0" rx="3.84" ry="8.0" fill="#fff" stroke="#111" stroke-width="2.0"/>
<ellipse cx="0" cy="0" rx="2.26" ry="4.7" fill="#fff" stroke="#111" stroke-width="1.6"/>
</g>
<g transform="translate(861.4,169.7) rotate(-29.5)">
<line x1="7" y1="0" x2="33" y2="0" stroke="#111" stroke-width="1.4" />
<line x1="54" y1="0" x2="121" y2="0" stroke="#111" stroke-width="1.4" />
<line x1="132" y1="0" x2="187" y2="0" stroke="#111" stroke-width="1.4" />
<path d="M-9.32,-4.30 L-5.00,-8.60 L5.50,-8.60 L9.82,-4.30 L9.82,4.30 L5.50,8.60 L-5.00,8.60 L-9.32,4.30 Z" fill="#fff" stroke="#111" stroke-width="1.5" stroke-linejoin="round" stroke-linecap="round" />
<path d="M-0.68,4.30 L9.82,4.30" fill="none" stroke="#111" stroke-width="1.35" stroke-linejoin="round" stroke-linecap="round" />
<path d="M-5.00,8.60 L5.50,8.60" fill="none" stroke="#111" stroke-width="1.35" stroke-linejoin="round" stroke-linecap="round" />
<path d="M-5.00,-8.60 L5.50,-8.60" fill="none" stroke="#111" stroke-width="1.35" stroke-linejoin="round" stroke-linecap="round" />
<path d="M-0.68,-4.30 L9.82,-4.30" fill="none" stroke="#111" stroke-width="1.35" stroke-linejoin="round" stroke-linecap="round" />
<path d="M-0.68,4.30 L-5.00,8.60 L-9.32,4.30 L-9.32,-4.30 L-5.00,-8.60 L-0.68,-4.30 Z" fill="#fff" stroke="#111" stroke-width="1.5" stroke-linejoin="round" stroke-linecap="round" />
<ellipse cx="-5" cy="0" rx="2.67" ry="4.6" fill="#fff" stroke="#111" stroke-width="1.2"/>
<path d="M44,-5.6 L52,-5.6 A3.2479999999999998,5.6 0 0 1 52,5.6 L44,5.6 A3.2479999999999998,5.6 0 0 1 44,-5.6 Z" fill="#fff" stroke="#111" stroke-width="1.5" stroke-linejoin="round" />
<ellipse cx="52" cy="0" rx="3.2479999999999998" ry="5.6" fill="#fff" stroke="#111" stroke-width="1.5" />
<path d="M46.5,-5.6 A3.2,5.6 0 0 1 46.5,5.6 M49,-5.6 A3.2,5.6 0 0 1 49,5.6" fill="none" stroke="#111" stroke-width="1.0" stroke-linejoin="round" stroke-linecap="round" />
<path d="M31.28,-3.70 L35.00,-7.40 L45.00,-7.40 L48.72,-3.70 L48.72,3.70 L45.00,7.40 L35.00,7.40 L31.28,3.70 Z" fill="#2a2a2a" stroke="#111" stroke-width="1.8" stroke-linejoin="round" stroke-linecap="round" />
<path d="M38.72,3.70 L48.72,3.70" fill="none" stroke="#111" stroke-width="1.62" stroke-linejoin="round" stroke-linecap="round" />
<path d="M35.00,7.40 L45.00,7.40" fill="none" stroke="#111" stroke-width="1.62" stroke-linejoin="round" stroke-linecap="round" />
<path d="M35.00,-7.40 L45.00,-7.40" fill="none" stroke="#111" stroke-width="1.62" stroke-linejoin="round" stroke-linecap="round" />
<path d="M38.72,-3.70 L48.72,-3.70" fill="none" stroke="#111" stroke-width="1.62" stroke-linejoin="round" stroke-linecap="round" />
<path d="M38.72,3.70 L35.00,7.40 L31.28,3.70 L31.28,-3.70 L35.00,-7.40 L38.72,-3.70 Z" fill="#2a2a2a" stroke="#111" stroke-width="1.8" stroke-linejoin="round" stroke-linecap="round" />
<ellipse cx="35" cy="0" rx="1.80" ry="3.11" fill="#ddd" stroke="#111" stroke-width="1.62"/>
<path d="M38,-6.6 L44,-6.6 M39,6.2 L44.5,6.2" fill="none" stroke="#bbb" stroke-width="1.0" stroke-linejoin="round" stroke-linecap="round" />
<ellipse cx="126.5" cy="0" rx="4.41" ry="7.6" fill="#fff" stroke="#111" stroke-width="2.0"/>
<ellipse cx="126.5" cy="0" rx="2.09" ry="3.6" fill="#fff" stroke="#111" stroke-width="1.6"/>
</g>
<line x1="930.2" y1="384" x2="930.2" y2="404" stroke="#111" stroke-width="1.4" />
<line x1="930.2" y1="425" x2="930.2" y2="437" stroke="#111" stroke-width="1.4" />
<line x1="930.2" y1="446" x2="930.2" y2="458" stroke="#111" stroke-width="1.4" />
<g transform="translate(930.2,376) rotate(90)">
<path d="M-8.24,-4.50 L-4.50,-9.00 L4.30,-9.00 L8.04,-4.50 L8.04,4.50 L4.30,9.00 L-4.50,9.00 L-8.24,4.50 Z" fill="#fff" stroke="#111" stroke-width="1.5" stroke-linejoin="round" stroke-linecap="round" />
<path d="M-0.76,4.50 L8.04,4.50" fill="none" stroke="#111" stroke-width="1.35" stroke-linejoin="round" stroke-linecap="round" />
<path d="M-4.50,9.00 L4.30,9.00" fill="none" stroke="#111" stroke-width="1.35" stroke-linejoin="round" stroke-linecap="round" />
<path d="M-4.50,-9.00 L4.30,-9.00" fill="none" stroke="#111" stroke-width="1.35" stroke-linejoin="round" stroke-linecap="round" />
<path d="M-0.76,-4.50 L8.04,-4.50" fill="none" stroke="#111" stroke-width="1.35" stroke-linejoin="round" stroke-linecap="round" />
<path d="M-0.76,4.50 L-4.50,9.00 L-8.24,4.50 L-8.24,-4.50 L-4.50,-9.00 L-0.76,-4.50 Z" fill="#fff" stroke="#111" stroke-width="1.5" stroke-linejoin="round" stroke-linecap="round" />
</g>
<g transform="translate(930.2,403.4) rotate(90)">
<path d="M15,-5.8 L21.5,-5.8 A2.784,5.8 0 0 1 21.5,5.8 L15,5.8 A2.784,5.8 0 0 1 15,-5.8 Z" fill="#fff" stroke="#111" stroke-width="1.6" stroke-linejoin="round" />
<ellipse cx="15" cy="0" rx="2.784" ry="5.8" fill="#fff" stroke="#111" stroke-width="1.6" />
<path d="M3.92,-4.30 L7.50,-8.60 L13.50,-8.60 L17.07,-4.30 L17.07,4.30 L13.50,8.60 L7.50,8.60 L3.92,4.30 Z" fill="#555" stroke="#111" stroke-width="2.0" stroke-linejoin="round" stroke-linecap="round" />
<path d="M11.07,4.30 L17.07,4.30" fill="none" stroke="#111" stroke-width="1.8" stroke-linejoin="round" stroke-linecap="round" />
<path d="M7.50,8.60 L13.50,8.60" fill="none" stroke="#111" stroke-width="1.8" stroke-linejoin="round" stroke-linecap="round" />
<path d="M7.50,-8.60 L13.50,-8.60" fill="none" stroke="#111" stroke-width="1.8" stroke-linejoin="round" stroke-linecap="round" />
<path d="M11.07,-4.30 L17.07,-4.30" fill="none" stroke="#111" stroke-width="1.8" stroke-linejoin="round" stroke-linecap="round" />
<path d="M11.07,4.30 L7.50,8.60 L3.93,4.30 L3.93,-4.30 L7.50,-8.60 L11.07,-4.30 Z" fill="#555" stroke="#111" stroke-width="2.0" stroke-linejoin="round" stroke-linecap="round" />
<path d="M2,-4.8 L7.5,-4.8 A2.304,4.8 0 0 1 7.5,4.8 L2,4.8 A2.304,4.8 0 0 1 2,-4.8 Z" fill="#fff" stroke="#111" stroke-width="1.6" stroke-linejoin="round" />
<ellipse cx="2" cy="0" rx="2.304" ry="4.8" fill="#fff" stroke="#111" stroke-width="1.6" />
<ellipse cx="2" cy="0" rx="1.20" ry="2.5" fill="#fff" stroke="#111" stroke-width="1.0"/>
</g>
<g transform="translate(930.2,441.5) rotate(90)">
<ellipse cx="0" cy="0" rx="3.74" ry="7.8" fill="#fff" stroke="#111" stroke-width="2.0"/>
<ellipse cx="0" cy="0" rx="2.11" ry="4.4" fill="#fff" stroke="#111" stroke-width="1.6"/>
</g>
<g transform="translate(269.6,45.8) rotate(21)">
<path d="M-8.38,-4.15 L-5.50,-8.30 L3.50,-8.30 L6.38,-4.15 L6.38,4.15 L3.50,8.30 L-5.50,8.30 L-8.38,4.15 Z" fill="#fff" stroke="#111" stroke-width="1.6" stroke-linejoin="round" stroke-linecap="round" />
<path d="M3.50,8.30 L-5.50,8.30" fill="none" stroke="#111" stroke-width="1.4400000000000002" stroke-linejoin="round" stroke-linecap="round" />
<path d="M0.62,4.15 L-8.38,4.15" fill="none" stroke="#111" stroke-width="1.4400000000000002" stroke-linejoin="round" stroke-linecap="round" />
<path d="M0.62,-4.15 L-8.38,-4.15" fill="none" stroke="#111" stroke-width="1.4400000000000002" stroke-linejoin="round" stroke-linecap="round" />
<path d="M3.50,-8.30 L-5.50,-8.30" fill="none" stroke="#111" stroke-width="1.4400000000000002" stroke-linejoin="round" stroke-linecap="round" />
<path d="M6.38,4.15 L3.50,8.30 L0.62,4.15 L0.62,-4.15 L3.50,-8.30 L6.38,-4.15 Z" fill="#fff" stroke="#111" stroke-width="1.6" stroke-linejoin="round" stroke-linecap="round" />
<ellipse cx="3.5" cy="0" rx="2.08" ry="5.2" fill="#fff" stroke="#111" stroke-width="1.3"/>
</g>
<text x="129" y="148" font-size="18" text-anchor="middle" dominant-baseline="central" fill="#111">17</text>
<text x="166" y="170.6" font-size="18" text-anchor="middle" dominant-baseline="central" fill="#111">16</text>
<text x="189.1" y="292.6" font-size="18" text-anchor="middle" dominant-baseline="central" fill="#111">16</text>
<text x="157.7" y="311.6" font-size="18" text-anchor="middle" dominant-baseline="central" fill="#111">17</text>
<text x="212" y="360.6" font-size="18" text-anchor="middle" dominant-baseline="central" fill="#111">7</text>
<text x="553.7" y="287.8" font-size="18" text-anchor="middle" dominant-baseline="central" fill="#111">3</text>
<text x="575" y="424.5" font-size="18" text-anchor="middle" dominant-baseline="central" fill="#111">4</text>
<text x="898.2" y="79.1" font-size="18" text-anchor="middle" dominant-baseline="central" fill="#111">2</text>
<text x="969.8" y="53.7" font-size="18" text-anchor="middle" dominant-baseline="central" fill="#111">1</text>
<text x="1108.9" y="181.7" font-size="18" text-anchor="middle" dominant-baseline="central" fill="#111">23</text>
<text x="1108.9" y="215.1" font-size="18" text-anchor="middle" dominant-baseline="central" fill="#111">22</text>
<text x="1107.7" y="245.8" font-size="18" text-anchor="middle" dominant-baseline="central" fill="#111">21</text>
<text x="1015.5" y="275" font-size="18" text-anchor="middle" dominant-baseline="central" fill="#111">20</text>
<text x="895.6" y="398.4" font-size="18" text-anchor="middle" dominant-baseline="central" fill="#111">2</text>
<text x="898.9" y="432" font-size="18" text-anchor="middle" dominant-baseline="central" fill="#111">1</text>
<text x="38" y="490" font-size="18" text-anchor="middle" dominant-baseline="central" fill="#111">8</text>
<text x="74.4" y="510.8" font-size="18" text-anchor="middle" dominant-baseline="central" fill="#111">9</text>
<text x="118" y="497" font-size="18" text-anchor="middle" dominant-baseline="central" fill="#111">5</text>
<text x="149.2" y="479.6" font-size="18" text-anchor="middle" dominant-baseline="central" fill="#111">6</text>
<text x="342.8" y="523.2" font-size="18" text-anchor="middle" dominant-baseline="central" fill="#111">6</text>
<text x="291.6" y="568.6" font-size="18" text-anchor="middle" dominant-baseline="central" fill="#111">5</text>
<text x="314" y="741" font-size="18" text-anchor="middle" dominant-baseline="central" fill="#111">11</text>
<text x="174" y="758" font-size="18" text-anchor="middle" dominant-baseline="central" fill="#111">18</text>
<text x="252" y="768" font-size="18" text-anchor="middle" dominant-baseline="central" fill="#111">10</text>
<text x="595.3" y="706.8" font-size="18" text-anchor="middle" dominant-baseline="central" fill="#111">15</text>
<text x="626.8" y="725" font-size="18" text-anchor="middle" dominant-baseline="central" fill="#111">14</text>
<text x="658.5" y="743.5" font-size="18" text-anchor="middle" dominant-baseline="central" fill="#111">13</text>
<text x="706.1" y="770.6" font-size="18" text-anchor="middle" dominant-baseline="central" fill="#111">12</text>
<text x="1009.7" y="622.9" font-size="18" text-anchor="middle" dominant-baseline="central" fill="#111">35</text>
<text x="1117.7" y="603.9" font-size="18" text-anchor="middle" dominant-baseline="central" fill="#111">34</text>
<text x="1117.7" y="631.6" font-size="18" text-anchor="middle" dominant-baseline="central" fill="#111">33</text>
<text x="1117.7" y="664" font-size="18" text-anchor="middle" dominant-baseline="central" fill="#111">32</text>
<text x="1117.7" y="697.4" font-size="18" text-anchor="middle" dominant-baseline="central" fill="#111">28</text>
<text x="1164.8" y="725.4" font-size="18" text-anchor="middle" dominant-baseline="central" fill="#111">29</text>
<text x="950.5" y="701.2" font-size="18" text-anchor="middle" dominant-baseline="central" fill="#111">31</text>
<text x="981" y="718.6" font-size="18" text-anchor="middle" dominant-baseline="central" fill="#111">30</text>
<text x="1024.6" y="737.3" font-size="18" text-anchor="middle" dominant-baseline="central" fill="#111">27</text>
<text x="1023.4" y="781" font-size="18" text-anchor="middle" dominant-baseline="central" fill="#111">26</text>
<text x="995.2" y="798.4" font-size="18" text-anchor="middle" dominant-baseline="central" fill="#111">25</text>
<text x="925.6" y="746" font-size="18" text-anchor="middle" dominant-baseline="central" fill="#111">24</text>
<line x1="127.8" y1="157.4" x2="127.8" y2="194.8" stroke="#111" stroke-width="1.4" />
<line x1="164.7" y1="178.6" x2="164.7" y2="211" stroke="#111" stroke-width="1.4" />
<line x1="176" y1="285.9" x2="147.2" y2="269.7" stroke="#111" stroke-width="1.4" />
<line x1="144.7" y1="304.6" x2="116" y2="289.6" stroke="#111" stroke-width="1.4" />
<line x1="207.6" y1="367.3" x2="164.7" y2="391.8" stroke="#111" stroke-width="1.4" />
<line x1="556.4" y1="301" x2="556.4" y2="347" stroke="#111" stroke-width="1.4" />
<line x1="575" y1="436.2" x2="575" y2="481" stroke="#111" stroke-width="1.4" />
<line x1="898.2" y1="89.9" x2="898.2" y2="141" stroke="#111" stroke-width="1.4" />
<line x1="969.8" y1="66.2" x2="969.8" y2="101" stroke="#111" stroke-width="1.4" />
<line x1="1094.7" y1="172.2" x2="1073.5" y2="162.2" stroke="#111" stroke-width="1.4" />
<line x1="1094.7" y1="206.6" x2="1072.2" y2="194.7" stroke="#111" stroke-width="1.4" />
<line x1="1094.7" y1="237" x2="1073.5" y2="224.6" stroke="#111" stroke-width="1.4" />
<line x1="1059.8" y1="249.5" x2="1028.6" y2="266.5" stroke="#111" stroke-width="1.4" />
<line x1="901.9" y1="402" x2="923" y2="412" stroke="#111" stroke-width="1.4" />
<line x1="905.6" y1="432" x2="923" y2="440.8" stroke="#111" stroke-width="1.4" />
<line x1="1023.4" y1="614.6" x2="1047" y2="602.2" stroke="#111" stroke-width="1.4" />
<line x1="1102" y1="610.9" x2="1073.3" y2="627.1" stroke="#111" stroke-width="1.4" />
<line x1="1102" y1="638.3" x2="1068.3" y2="657" stroke="#111" stroke-width="1.4" />
<line x1="1103.2" y1="671.2" x2="1070.8" y2="687.4" stroke="#111" stroke-width="1.4" />
<line x1="1103.2" y1="704.9" x2="1074.5" y2="719.9" stroke="#111" stroke-width="1.4" />
<line x1="1150.6" y1="732.3" x2="1131.9" y2="744.8" stroke="#111" stroke-width="1.4" />
<line x1="1038.3" y1="744.8" x2="1058.3" y2="757.3" stroke="#111" stroke-width="1.4" />
<line x1="911.1" y1="753.5" x2="883.7" y2="768.5" stroke="#111" stroke-width="1.4" />
<line x1="1037.1" y1="788.5" x2="1057" y2="798.4" stroke="#111" stroke-width="1.4" />
<line x1="1008.9" y1="805.9" x2="1032.1" y2="818.4" stroke="#111" stroke-width="1.4" />
<line x1="964.8" y1="692.4" x2="991" y2="677.5" stroke="#111" stroke-width="1.4" />
<line x1="994.7" y1="709.9" x2="1022.1" y2="694.9" stroke="#111" stroke-width="1.4" />
<line x1="285.9" y1="559.4" x2="245.3" y2="535.4" stroke="#111" stroke-width="1.4" />
<line x1="285.9" y1="559.4" x2="279.8" y2="514.4" stroke="#111" stroke-width="1.4" />
<line x1="338" y1="515" x2="310.9" y2="498.8" stroke="#111" stroke-width="1.4" />
<line x1="38.2" y1="499.5" x2="38.2" y2="530.4" stroke="#111" stroke-width="1.4" />
<line x1="74.6" y1="522" x2="74.6" y2="551.8" stroke="#111" stroke-width="1.4" />
<line x1="127.1" y1="512.1" x2="148.5" y2="560.3" stroke="#111" stroke-width="1.4" />
<line x1="127.1" y1="512.1" x2="189.2" y2="535.7" stroke="#111" stroke-width="1.4" />
<line x1="158.4" y1="492.2" x2="208.5" y2="520.6" stroke="#111" stroke-width="1.4" />
<line x1="145.4" y1="759" x2="162.7" y2="759" stroke="#111" stroke-width="1.4" />
<g style="mix-blend-mode:multiply">
<g transform="translate(499.3,624.5)" fill="none" stroke="#8f8f8f" stroke-width="1.1" stroke-linejoin="round">
<path d="M-21.5,-42.1 L-4.2,-59.2 Q-1.2,-62.6 3.3,-62.2 L49.9,-50 L63.3,-0.3 L26.2,37.6 L-7,29 Q-12.5,27.5 -14,21.8 L-20.4,-1.9 L12.8,6.8 A19,19 0 0 0 19.1,-32.2 Z"/><path d="M-21.5,-42.1 L-4.2,-59.2 Q-1.2,-62.6 3.3,-62.2 L49.9,-50 L63.3,-0.3 L26.2,37.6 L-7,29 Q-12.5,27.5 -14,21.8 L-20.4,-1.9 L12.8,6.8 A19,19 0 0 0 19.1,-32.2 Z" transform="rotate(180)"/>
</g>
<mask id="wmm" maskUnits="userSpaceOnUse" x="0" y="0" width="1363" height="887"><rect x="0" y="0" width="1363" height="887" fill="#fff"/><g transform="translate(593.5,593.5) rotate(-45)" font-family="Liberation Sans, sans-serif" font-weight="bold" font-size="121" text-anchor="middle" stroke-linejoin="miter" fill="#000" stroke="#000" stroke-width="5.9"><text transform="translate(0,-3.5) scale(1.1,1)" x="50.91 140.91 228.18 318.18 412.73" y="0">БИЗОН</text></g></mask>
<g mask="url(#wmm)"><g transform="translate(593.5,593.5) rotate(-45)" font-family="Liberation Sans, sans-serif" font-weight="bold" font-size="121" text-anchor="middle" stroke-linejoin="miter" fill="none" stroke="#8f8f8f" stroke-width="8.1"><text transform="translate(0,-3.5) scale(1.1,1)" x="50.91 140.91 228.18 318.18 412.73" y="0">БИЗОН</text></g></g>
</g>
</svg>
</body></html>
